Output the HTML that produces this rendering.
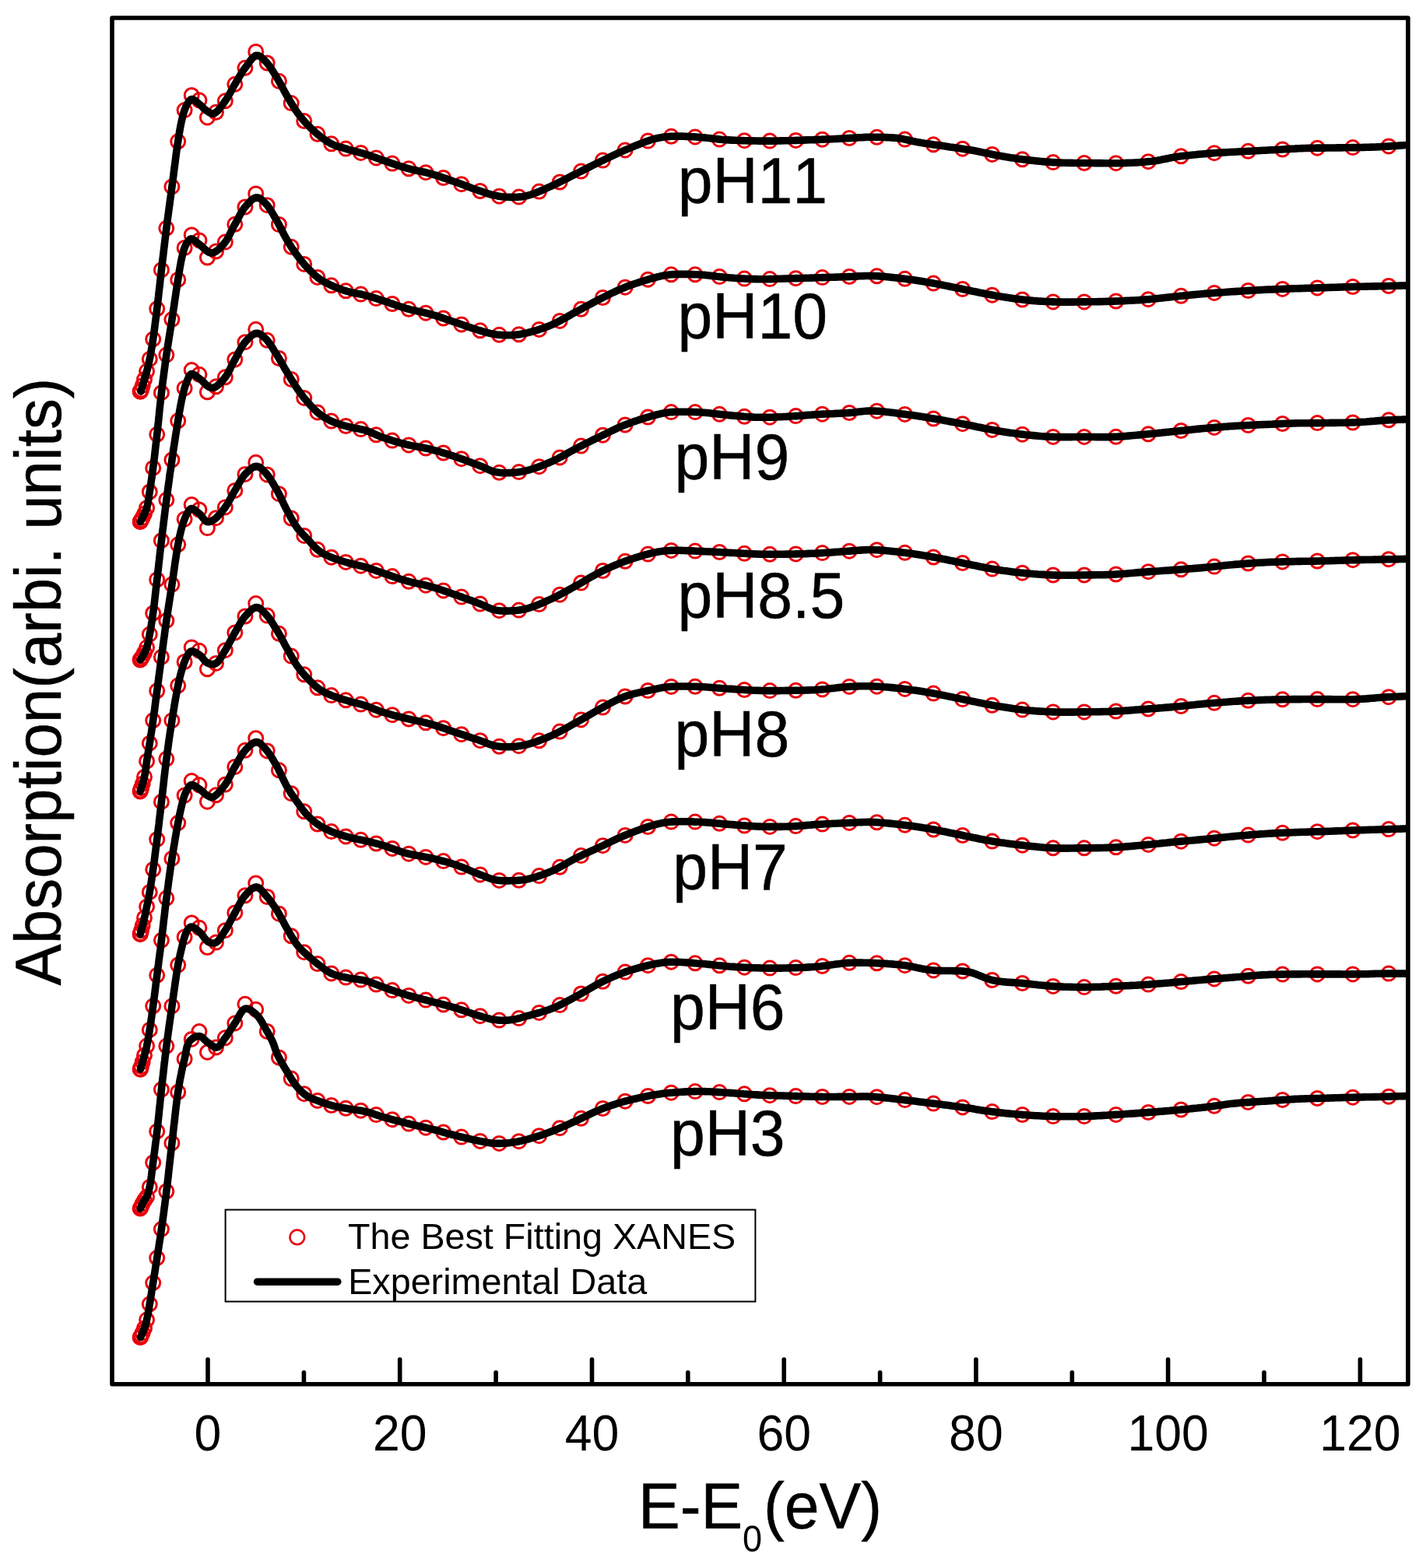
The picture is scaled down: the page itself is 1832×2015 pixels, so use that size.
<!DOCTYPE html>
<html><head><meta charset="utf-8"><title>XANES</title>
<style>html,body{margin:0;padding:0;background:#fff;overflow:hidden;}svg{display:block;}text{font-kerning:none;font-feature-settings:"kern" 0;}</style></head>
<body>
<svg width="1832" height="2015" viewBox="0 0 1832 2015">
<rect width="1832" height="2015" fill="#fff"/>
<g fill="none" stroke="#e8000b" stroke-width="3"><circle cx="180.1" cy="503" r="9.0"/><circle cx="180.5" cy="503" r="9.0"/><circle cx="181.5" cy="501" r="9.0"/><circle cx="183.2" cy="495.4" r="9.0"/><circle cx="185.5" cy="487.6" r="9.0"/><circle cx="188.6" cy="477.1" r="9.0"/><circle cx="192.3" cy="461.4" r="9.0"/><circle cx="196.7" cy="435.8" r="9.0"/><circle cx="201.7" cy="396.8" r="9.0"/><circle cx="207.4" cy="346.9" r="9.0"/><circle cx="213.8" cy="293.3" r="9.0"/><circle cx="220.9" cy="239.9" r="9.0"/><circle cx="228.7" cy="181.8" r="9.0"/><circle cx="237.1" cy="141.6" r="9.0"/><circle cx="246.2" cy="122.5" r="9.0"/><circle cx="255.9" cy="128.8" r="9.0"/><circle cx="266.4" cy="150.9" r="9.0"/><circle cx="277.5" cy="144.3" r="9.0"/><circle cx="289.3" cy="129.8" r="9.0"/><circle cx="301.8" cy="108.3" r="9.0"/><circle cx="314.9" cy="87.3" r="9.0"/><circle cx="328.7" cy="66.4" r="9.0"/><circle cx="343.2" cy="81" r="9.0"/><circle cx="358.4" cy="104.3" r="9.0"/><circle cx="374.2" cy="132.6" r="9.0"/><circle cx="390.7" cy="155.5" r="9.0"/><circle cx="407.9" cy="172.3" r="9.0"/><circle cx="425.7" cy="184.8" r="9.0"/><circle cx="444.3" cy="191.1" r="9.0"/><circle cx="463.5" cy="196.4" r="9.0"/><circle cx="483.3" cy="202.9" r="9.0"/><circle cx="503.9" cy="210.1" r="9.0"/><circle cx="525.1" cy="216.8" r="9.0"/><circle cx="547" cy="221.7" r="9.0"/><circle cx="569.6" cy="228.5" r="9.0"/><circle cx="592.8" cy="236.7" r="9.0"/><circle cx="616.8" cy="245.5" r="9.0"/><circle cx="641.3" cy="252.2" r="9.0"/><circle cx="666.6" cy="253.1" r="9.0"/><circle cx="692.6" cy="246.1" r="9.0"/><circle cx="719.2" cy="234" r="9.0"/><circle cx="746.5" cy="220.1" r="9.0"/><circle cx="774.4" cy="206.1" r="9.0"/><circle cx="803.1" cy="192.9" r="9.0"/><circle cx="832.4" cy="181.1" r="9.0"/><circle cx="862.3" cy="175.3" r="9.0"/><circle cx="893" cy="175.9" r="9.0"/><circle cx="924.3" cy="179.1" r="9.0"/><circle cx="956.3" cy="180.7" r="9.0"/><circle cx="989" cy="181.1" r="9.0"/><circle cx="1022.4" cy="180.4" r="9.0"/><circle cx="1056.4" cy="179.2" r="9.0"/><circle cx="1091.1" cy="177.5" r="9.0"/><circle cx="1126.5" cy="176.3" r="9.0"/><circle cx="1162.5" cy="179.1" r="9.0"/><circle cx="1199.2" cy="185.8" r="9.0"/><circle cx="1236.6" cy="191.2" r="9.0"/><circle cx="1274.7" cy="198.4" r="9.0"/><circle cx="1313.4" cy="204.8" r="9.0"/><circle cx="1352.9" cy="208.6" r="9.0"/><circle cx="1392.9" cy="209.5" r="9.0"/><circle cx="1433.7" cy="209.7" r="9.0"/><circle cx="1475.2" cy="207.7" r="9.0"/><circle cx="1517.3" cy="200.8" r="9.0"/><circle cx="1560" cy="196.7" r="9.0"/><circle cx="1603.5" cy="194.3" r="9.0"/><circle cx="1647.6" cy="192" r="9.0"/><circle cx="1692.4" cy="190.2" r="9.0"/><circle cx="1737.9" cy="189.6" r="9.0"/><circle cx="1784.1" cy="187.9" r="9.0"/></g>
<path d="M180.9,503 181.2,502 181.5,501 181.8,500 182.1,499 182.4,498 182.7,497.1 183,496.1 183.3,495.1 183.6,494.1 183.9,493.1 184.2,492 184.5,491 184.8,489.9 185.2,488.7 185.5,487.6 185.9,486.4 186.2,485.3 186.6,484.1 186.9,483 187.3,481.8 187.6,480.6 187.9,479.4 188.3,478.2 188.6,477 188.9,475.7 189.3,474.5 189.6,473.2 189.9,472 190.2,470.7 190.5,469.5 190.8,468.2 191.1,466.9 191.4,465.5 191.7,464.2 192,462.8 192.3,461.3 192.7,459.4 193.1,457.4 193.4,455.4 193.8,453.4 194.2,451.3 194.5,449.1 194.9,447 195.3,444.7 195.6,442.5 196,440.2 196.3,437.9 196.7,435.5 197.1,432.6 197.6,429.6 198,426.5 198.4,423.4 198.8,420.2 199.2,416.9 199.6,413.7 200,410.4 200.5,407 200.9,403.6 201.3,400.2 201.7,396.8 202.2,392.9 202.6,388.9 203.1,384.9 203.6,380.8 204,376.7 204.5,372.5 205,368.3 205.5,364.1 205.9,359.9 206.4,355.6 206.9,351.4 207.4,347.2 207.9,342.8 208.4,338.4 208.9,333.9 209.5,329.5 210,325 210.5,320.5 211.1,316 211.6,311.5 212.1,307 212.7,302.6 213.2,298.1 213.8,293.6 214.4,289.1 214.9,284.7 215.5,280.3 216.1,275.8 216.7,271.4 217.3,266.9 217.9,262.5 218.5,258 219.1,253.6 219.7,249.1 220.3,244.5 220.9,240 221.5,235.1 222.2,230.1 222.9,225 223.5,219.8 224.2,214.5 224.9,209.3 225.5,204.2 226.2,199.2 226.8,194.4 227.5,189.8 228.1,185.5 228.7,181.5 229.1,179.1 229.4,176.7 229.8,174.5 230.1,172.3 230.5,170.2 230.8,168.2 231.2,166.3 231.5,164.3 231.9,162.5 232.2,160.6 232.6,158.8 233,157 233.3,155.6 233.6,154.1 234,152.7 234.3,151.4 234.6,150 234.9,148.7 235.3,147.4 235.6,146.2 236,144.9 236.3,143.8 236.7,142.6 237.1,141.5 237.4,140.7 237.7,139.9 238,139.1 238.3,138.4 238.6,137.6 238.9,136.9 239.2,136.2 239.5,135.5 239.9,134.9 240.2,134.2 240.6,133.6 241,133 241.4,132.4 241.8,131.8 242.2,131.3 242.6,130.7 243,130.1 243.4,129.5 243.9,129 244.4,128.5 244.8,128.1 245.3,127.8 245.9,127.6 246.4,127.5 247.1,127.5 247.8,127.7 248.6,128.1 249.4,128.5 250.3,129.1 251.1,129.7 252,130.4 252.9,131.2 253.7,131.9 254.6,132.7 255.4,133.4 256.2,134 257,134.6 257.7,135.3 258.4,136 259.2,136.7 259.9,137.4 260.6,138.2 261.3,138.9 262,139.6 262.7,140.2 263.5,140.9 264.2,141.5 265,142 265.7,142.5 266.5,143 267.3,143.5 268.1,144 268.8,144.5 269.6,144.9 270.4,145.3 271.3,145.6 272.1,145.9 272.9,146 273.7,146 274.5,145.9 275.7,145.5 276.9,144.8 278.1,143.8 279.4,142.7 280.6,141.4 281.9,139.9 283.1,138.3 284.3,136.7 285.5,135 286.7,133.4 287.9,131.7 289,130.2 290.2,128.5 291.3,126.8 292.5,125 293.5,123.1 294.6,121.2 295.7,119.3 296.7,117.4 297.7,115.5 298.8,113.5 299.8,111.6 300.9,109.7 302,107.9 303.1,106.1 304.1,104.3 305.2,102.5 306.3,100.7 307.3,98.9 308.4,97.1 309.5,95.3 310.6,93.6 311.7,91.8 312.9,90.1 314,88.5 315.2,86.9 316.3,85.4 317.5,83.8 318.7,82.1 319.8,80.4 321,78.7 322.3,77.1 323.5,75.6 324.7,74.2 325.9,73.1 327.2,72.2 328.4,71.5 329.6,71.2 330.6,71.2 331.6,71.4 332.6,71.7 333.6,72.2 334.6,72.8 335.6,73.6 336.5,74.4 337.5,75.3 338.5,76.2 339.5,77.2 340.4,78.2 341.4,79.1 342.7,80.4 343.9,81.9 345.1,83.4 346.4,85.1 347.6,86.9 348.8,88.7 350,90.6 351.2,92.5 352.4,94.4 353.5,96.3 354.7,98.2 355.8,100 357,101.9 358.1,103.8 359.2,105.8 360.3,107.8 361.4,109.8 362.4,111.8 363.5,113.8 364.6,115.8 365.6,117.8 366.7,119.7 367.8,121.7 368.9,123.6 370,125.4 371,127.2 372.1,129.1 373.2,130.9 374.3,132.7 375.3,134.4 376.4,136.2 377.5,137.9 378.6,139.7 379.7,141.3 380.9,143 382,144.6 383,146 384.1,147.4 385.1,148.8 386.2,150.1 387.3,151.5 388.3,152.8 389.4,154 390.5,155.3 391.6,156.6 392.8,157.8 393.9,159.1 395.1,160.3 396.3,161.6 397.6,162.8 398.8,164.1 400.1,165.3 401.4,166.6 402.7,167.8 404.1,169 405.4,170.2 406.7,171.4 408.1,172.5 409.4,173.6 410.8,174.7 412.1,175.7 413.3,176.7 414.6,177.6 415.9,178.6 417.1,179.5 418.4,180.4 419.7,181.3 421,182.1 422.3,182.9 423.7,183.7 425.1,184.5 426.5,185.2 428,185.9 429.6,186.6 431.1,187.2 432.7,187.7 434.4,188.3 436,188.8 437.7,189.3 439.4,189.7 441.1,190.2 442.8,190.7 444.5,191.2 446.2,191.7 448.1,192.3 450,192.8 452,193.4 454,193.9 456,194.4 458.1,195 460.1,195.5 462.1,196 464.1,196.6 466.1,197.1 468.1,197.7 470,198.3 471.8,198.9 473.6,199.4 475.3,200 477,200.6 478.7,201.2 480.4,201.8 482.1,202.4 483.8,203 485.6,203.7 487.4,204.3 489.2,204.9 491.1,205.6 493.5,206.4 495.9,207.3 498.4,208.2 501,209.1 503.6,210 506.2,210.9 508.9,211.8 511.6,212.7 514.3,213.6 516.9,214.4 519.6,215.2 522.2,216 524.8,216.7 527.4,217.4 530,218 532.6,218.5 535.2,219.1 537.8,219.7 540.4,220.2 543,220.8 545.6,221.3 548.2,221.9 550.8,222.6 553.4,223.3 556,224.1 558.6,224.8 561.2,225.7 563.8,226.5 566.4,227.4 569,228.3 571.6,229.1 574.2,230.1 576.7,231 579.3,231.9 581.9,232.8 584.5,233.7 587.1,234.6 589.8,235.6 592.4,236.6 595.1,237.6 597.8,238.6 600.4,239.6 603.1,240.6 605.7,241.6 608.3,242.5 610.8,243.4 613.2,244.3 615.6,245.1 617.5,245.7 619.3,246.3 621,246.9 622.8,247.5 624.5,248.1 626.2,248.6 627.8,249.1 629.5,249.6 631.2,250.1 632.9,250.5 634.6,250.9 636.3,251.3 638,251.6 639.7,251.9 641.5,252.2 643.2,252.4 644.9,252.7 646.7,252.9 648.4,253 650.2,253.2 651.9,253.3 653.6,253.3 655.4,253.4 657.1,253.4 658.8,253.4 660.5,253.4 662.2,253.3 663.9,253.3 665.6,253.2 667.2,253 668.9,252.9 670.7,252.7 672.4,252.4 674.2,252.1 676,251.7 677.8,251.3 680.2,250.7 682.7,249.9 685.2,249 687.8,248 690.4,247 693.1,245.9 695.8,244.8 698.4,243.6 701.1,242.4 703.8,241.2 706.4,240 709,238.8 711.6,237.6 714.2,236.4 716.8,235.1 719.4,233.8 722,232.5 724.6,231.2 727.2,229.9 729.8,228.6 732.3,227.2 734.9,225.9 737.5,224.6 740.1,223.3 742.7,222 745.3,220.7 747.9,219.4 750.5,218.1 753,216.8 755.6,215.4 758.2,214.1 760.8,212.8 763.4,211.5 766,210.2 768.6,209 771.2,207.7 773.8,206.5 776.3,205.2 778.9,204 781.4,202.8 784,201.5 786.5,200.3 789.1,199.1 791.7,197.9 794.3,196.7 796.9,195.5 799.6,194.4 802.3,193.2 805.3,191.9 808.4,190.6 811.6,189.2 814.9,187.8 818.2,186.5 821.5,185.2 824.7,183.9 827.9,182.6 831.1,181.5 834.2,180.4 837.2,179.5 840,178.7 842,178.2 843.9,177.7 845.8,177.3 847.6,177 849.4,176.6 851.1,176.4 852.9,176.1 854.7,175.9 856.5,175.7 858.3,175.6 860.3,175.4 862.3,175.3 864.9,175.2 867.7,175.1 870.5,175.1 873.3,175.1 876.3,175.1 879.3,175.2 882.3,175.4 885.3,175.5 888.3,175.7 891.3,175.8 894.3,176 897.2,176.2 900.1,176.4 902.9,176.7 905.8,176.9 908.6,177.3 911.4,177.6 914.2,177.9 917.1,178.3 919.9,178.6 922.9,178.9 925.9,179.2 928.9,179.5 932.1,179.7 936.1,179.9 940.2,180.1 944.4,180.3 948.7,180.5 953.1,180.6 957.5,180.8 962,180.9 966.5,180.9 971,181 975.6,181.1 980,181.1 984.5,181.1 989.1,181.1 993.8,181.1 998.6,181 1003.4,180.9 1008.2,180.8 1013,180.7 1017.7,180.5 1022.4,180.4 1027,180.2 1031.5,180.1 1035.8,179.9 1040,179.8 1043.2,179.7 1046.2,179.6 1049.2,179.5 1052.1,179.4 1054.9,179.3 1057.7,179.1 1060.5,179 1063.3,178.9 1066.1,178.8 1069,178.7 1071.9,178.5 1074.9,178.4 1078.4,178.2 1082,178 1085.6,177.8 1089.3,177.6 1093,177.4 1096.7,177.2 1100.5,176.9 1104.2,176.7 1107.9,176.6 1111.5,176.4 1115.1,176.3 1118.6,176.3 1121.7,176.3 1124.7,176.3 1127.7,176.3 1130.7,176.3 1133.7,176.4 1136.6,176.5 1139.5,176.6 1142.4,176.7 1145.2,176.9 1148,177.1 1150.8,177.3 1153.5,177.6 1155.8,177.9 1158.1,178.3 1160.2,178.6 1162.4,179.1 1164.5,179.5 1166.6,180 1168.7,180.5 1170.8,181 1173,181.5 1175.2,181.9 1177.4,182.4 1179.7,182.8 1182.4,183.3 1185.2,183.7 1188.1,184.2 1191,184.6 1193.9,185 1196.9,185.4 1199.9,185.9 1202.8,186.3 1205.8,186.7 1208.8,187.1 1211.8,187.6 1214.7,188 1217.6,188.4 1220.5,188.9 1223.4,189.3 1226.3,189.7 1229.3,190.1 1232.2,190.5 1235.1,191 1238,191.4 1240.9,191.9 1243.8,192.3 1246.7,192.8 1249.6,193.3 1252.5,193.8 1255.4,194.4 1258.3,195 1261.2,195.6 1264.1,196.2 1267,196.8 1270,197.4 1272.9,198 1275.8,198.6 1278.7,199.2 1281.6,199.8 1284.5,200.3 1287.4,200.8 1290.3,201.3 1293.2,201.8 1296.1,202.2 1298.9,202.7 1301.8,203.1 1304.7,203.6 1307.6,204 1310.6,204.4 1313.5,204.8 1316.5,205.1 1319.5,205.5 1322.8,205.9 1326.1,206.2 1329.4,206.6 1332.8,206.9 1336.2,207.3 1339.6,207.6 1343,207.9 1346.4,208.1 1349.8,208.4 1353.2,208.6 1356.6,208.8 1360,209 1363.3,209.1 1366.7,209.3 1370,209.3 1373.3,209.4 1376.6,209.4 1379.9,209.5 1383.2,209.5 1386.5,209.5 1389.8,209.5 1393.2,209.5 1396.6,209.5 1400,209.5 1403.7,209.5 1407.4,209.6 1411.2,209.6 1415,209.6 1418.8,209.7 1422.6,209.7 1426.4,209.7 1430.2,209.7 1433.9,209.7 1437.6,209.7 1441.3,209.6 1444.8,209.5 1447.9,209.4 1450.9,209.3 1453.8,209.2 1456.8,209 1459.7,208.9 1462.5,208.7 1465.4,208.5 1468.2,208.3 1471.1,208.1 1473.9,207.8 1476.8,207.5 1479.7,207.2 1482.6,206.8 1485.5,206.4 1488.4,205.9 1491.2,205.4 1494.1,204.8 1497,204.3 1499.8,203.7 1502.7,203.1 1505.7,202.6 1508.6,202 1511.6,201.5 1514.7,201.1 1518.2,200.6 1521.7,200.2 1525.3,199.8 1528.9,199.4 1532.6,199 1536.2,198.7 1539.9,198.3 1543.6,198 1547.3,197.7 1551,197.4 1554.7,197.1 1558.3,196.8 1561.8,196.5 1565.3,196.3 1568.8,196.1 1572.3,195.9 1575.8,195.7 1579.3,195.5 1582.8,195.3 1586.3,195.2 1589.7,195 1593.2,194.8 1596.6,194.7 1600,194.5 1603.2,194.3 1606.4,194.2 1609.6,194 1612.8,193.8 1616,193.7 1619.1,193.5 1622.3,193.3 1625.4,193.2 1628.5,193 1631.7,192.8 1634.8,192.7 1638,192.5 1641.1,192.3 1644.3,192.2 1647.4,192 1650.5,191.8 1653.6,191.6 1656.7,191.4 1659.8,191.2 1662.9,191.1 1666.1,190.9 1669.4,190.8 1672.6,190.6 1676,190.5 1680,190.4 1684.1,190.3 1688.3,190.2 1692.6,190.1 1696.9,190.1 1701.3,190.1 1705.7,190 1710,190 1714.3,190 1718.5,189.9 1722.6,189.9 1726.6,189.8 1730,189.7 1733.2,189.7 1736.4,189.6 1739.6,189.6 1742.7,189.6 1745.8,189.5 1748.9,189.5 1752,189.4 1755.1,189.3 1758.2,189.2 1761.4,189.1 1764.6,189 1768,188.9 1771.5,188.7 1774.9,188.5 1778.4,188.3 1781.9,188.1 1785.4,187.9 1788.9,187.6 1792.4,187.4 1795.9,187.2 1799.4,186.9 1802.9,186.7 1806.4,186.5" fill="none" stroke="#000" stroke-width="9.6" stroke-linejoin="round" stroke-linecap="round"/>
<g fill="none" stroke="#e8000b" stroke-width="3"><circle cx="180.1" cy="670.5" r="9.0"/><circle cx="180.5" cy="670" r="9.0"/><circle cx="181.5" cy="668.2" r="9.0"/><circle cx="183.2" cy="665.1" r="9.0"/><circle cx="185.5" cy="660.3" r="9.0"/><circle cx="188.6" cy="652.7" r="9.0"/><circle cx="192.3" cy="632" r="9.0"/><circle cx="196.7" cy="601.4" r="9.0"/><circle cx="201.7" cy="558.3" r="9.0"/><circle cx="207.4" cy="504.7" r="9.0"/><circle cx="213.8" cy="456.1" r="9.0"/><circle cx="220.9" cy="410.6" r="9.0"/><circle cx="228.7" cy="359.4" r="9.0"/><circle cx="237.1" cy="318.5" r="9.0"/><circle cx="246.2" cy="301.9" r="9.0"/><circle cx="255.9" cy="308.9" r="9.0"/><circle cx="266.4" cy="331" r="9.0"/><circle cx="277.5" cy="323" r="9.0"/><circle cx="289.3" cy="311.1" r="9.0"/><circle cx="301.8" cy="288.3" r="9.0"/><circle cx="314.9" cy="266" r="9.0"/><circle cx="328.7" cy="248.9" r="9.0"/><circle cx="343.2" cy="263.7" r="9.0"/><circle cx="358.4" cy="288.6" r="9.0"/><circle cx="374.2" cy="317.3" r="9.0"/><circle cx="390.7" cy="339.4" r="9.0"/><circle cx="407.9" cy="356.4" r="9.0"/><circle cx="425.7" cy="366.8" r="9.0"/><circle cx="444.3" cy="373.8" r="9.0"/><circle cx="463.5" cy="378.1" r="9.0"/><circle cx="483.3" cy="383.6" r="9.0"/><circle cx="503.9" cy="390.5" r="9.0"/><circle cx="525.1" cy="397.3" r="9.0"/><circle cx="547" cy="402.2" r="9.0"/><circle cx="569.6" cy="409" r="9.0"/><circle cx="592.8" cy="416.9" r="9.0"/><circle cx="616.8" cy="424.8" r="9.0"/><circle cx="641.3" cy="430.3" r="9.0"/><circle cx="666.6" cy="429.8" r="9.0"/><circle cx="692.6" cy="423.4" r="9.0"/><circle cx="719.2" cy="412.4" r="9.0"/><circle cx="746.5" cy="397.3" r="9.0"/><circle cx="774.4" cy="382.5" r="9.0"/><circle cx="803.1" cy="369.2" r="9.0"/><circle cx="832.4" cy="359.2" r="9.0"/><circle cx="862.3" cy="352.8" r="9.0"/><circle cx="893" cy="352.8" r="9.0"/><circle cx="924.3" cy="355.6" r="9.0"/><circle cx="956.3" cy="358.1" r="9.0"/><circle cx="989" cy="358.6" r="9.0"/><circle cx="1022.4" cy="357.7" r="9.0"/><circle cx="1056.4" cy="356.6" r="9.0"/><circle cx="1091.1" cy="355.5" r="9.0"/><circle cx="1126.5" cy="354.8" r="9.0"/><circle cx="1162.5" cy="358.3" r="9.0"/><circle cx="1199.2" cy="364.1" r="9.0"/><circle cx="1236.6" cy="371.5" r="9.0"/><circle cx="1274.7" cy="379.2" r="9.0"/><circle cx="1313.4" cy="385" r="9.0"/><circle cx="1352.9" cy="387.9" r="9.0"/><circle cx="1392.9" cy="387.9" r="9.0"/><circle cx="1433.7" cy="387" r="9.0"/><circle cx="1475.2" cy="384.7" r="9.0"/><circle cx="1517.3" cy="380.3" r="9.0"/><circle cx="1560" cy="376.4" r="9.0"/><circle cx="1603.5" cy="373.5" r="9.0"/><circle cx="1647.6" cy="371.4" r="9.0"/><circle cx="1692.4" cy="369.9" r="9.0"/><circle cx="1737.9" cy="368.5" r="9.0"/><circle cx="1784.1" cy="367.5" r="9.0"/></g>
<path d="M180.2,670.5 180.6,669.8 180.9,669.2 181.3,668.5 181.7,667.9 182,667.2 182.4,666.6 182.7,665.9 183.1,665.2 183.5,664.6 183.8,663.9 184.2,663.2 184.5,662.5 184.9,661.7 185.2,661 185.6,660.2 186,659.4 186.3,658.7 186.7,657.9 187,657.1 187.3,656.2 187.7,655.4 188,654.5 188.3,653.6 188.6,652.6 189,651.2 189.4,649.6 189.7,648.1 190,646.4 190.3,644.7 190.6,643 190.9,641.2 191.2,639.3 191.4,637.5 191.7,635.6 192,633.7 192.3,631.8 192.7,629.5 193,627.1 193.4,624.6 193.8,622.2 194.1,619.7 194.5,617.1 194.9,614.5 195.2,611.9 195.6,609.2 196,606.5 196.3,603.8 196.7,601 197.1,597.7 197.5,594.4 198,591 198.4,587.5 198.8,584 199.2,580.4 199.6,576.8 200,573.2 200.4,569.6 200.9,565.9 201.3,562.1 201.7,558.4 202.2,554.2 202.6,549.8 203.1,545.4 203.6,541 204,536.5 204.5,531.9 204.9,527.4 205.4,522.8 205.9,518.3 206.4,513.8 206.9,509.4 207.4,505 207.9,500.9 208.4,496.7 208.9,492.6 209.4,488.5 210,484.5 210.5,480.4 211,476.4 211.6,472.3 212.1,468.3 212.7,464.3 213.2,460.3 213.8,456.3 214.4,452.5 214.9,448.6 215.5,444.9 216.1,441.1 216.7,437.3 217.3,433.6 217.9,429.8 218.5,426.1 219.1,422.3 219.7,418.4 220.3,414.6 220.9,410.7 221.5,406.5 222.2,402.1 222.9,397.6 223.6,393.1 224.2,388.5 224.9,383.9 225.6,379.5 226.2,375.1 226.9,370.8 227.5,366.7 228.1,362.8 228.7,359.1 229.1,356.7 229.5,354.3 229.8,352 230.2,349.8 230.5,347.7 230.8,345.6 231.2,343.6 231.5,341.6 231.9,339.6 232.2,337.7 232.6,335.8 233,334 233.3,332.5 233.6,331.1 233.9,329.7 234.3,328.3 234.6,326.9 234.9,325.6 235.3,324.3 235.6,323 236,321.8 236.3,320.6 236.7,319.5 237.1,318.4 237.4,317.7 237.7,316.9 238,316.3 238.3,315.6 238.6,314.9 238.9,314.3 239.2,313.7 239.5,313.1 239.9,312.6 240.2,312 240.6,311.5 241,311 241.3,310.6 241.7,310.1 242,309.6 242.4,309.2 242.8,308.8 243.1,308.3 243.5,308 243.9,307.6 244.3,307.3 244.8,307.1 245.2,307 245.7,306.9 246.4,307 247.2,307.2 248,307.6 248.8,308.1 249.7,308.7 250.6,309.4 251.5,310.2 252.5,311 253.4,311.8 254.3,312.6 255.3,313.4 256.2,314.1 257.3,314.9 258.4,315.9 259.5,316.9 260.6,318 261.7,319 262.9,320.1 264,321.1 265.1,322.1 266.2,322.9 267.3,323.6 268.3,324.2 269.3,324.6 269.9,324.8 270.5,324.9 271,324.9 271.6,325 272.1,325 272.6,324.9 273.1,324.8 273.7,324.7 274.2,324.6 274.8,324.4 275.3,324.2 275.9,323.9 276.9,323.4 277.9,322.7 279,321.9 280.1,321 281.3,320 282.4,319 283.6,317.8 284.7,316.6 285.8,315.4 286.9,314.1 288,312.8 289,311.5 290.2,309.9 291.4,308.1 292.5,306.2 293.6,304.3 294.6,302.3 295.7,300.2 296.7,298.1 297.8,296 298.8,294 299.8,291.9 300.9,289.9 302,287.9 303.1,286 304.1,284 305.2,282.1 306.2,280.1 307.3,278.1 308.3,276.1 309.4,274.2 310.5,272.3 311.6,270.5 312.8,268.8 314,267.1 315.2,265.6 316.3,264.3 317.4,263 318.6,261.7 319.8,260.4 321,259.1 322.3,257.9 323.5,256.8 324.8,255.8 326,255 327.2,254.4 328.4,254 329.6,253.8 330.6,253.8 331.6,254.1 332.6,254.4 333.6,254.9 334.6,255.5 335.6,256.2 336.6,257 337.6,257.9 338.5,258.8 339.5,259.8 340.5,260.7 341.4,261.7 342.7,263.1 343.9,264.6 345.2,266.3 346.4,268.1 347.6,270 348.8,271.9 350,273.9 351.2,275.9 352.4,278 353.5,280 354.7,282 355.8,284 356.9,286 358.1,288.1 359.2,290.1 360.2,292.3 361.3,294.4 362.4,296.5 363.4,298.6 364.5,300.7 365.6,302.8 366.7,304.8 367.8,306.8 368.9,308.8 370,310.6 371,312.3 372.1,314 373.2,315.7 374.2,317.4 375.3,319 376.4,320.6 377.5,322.3 378.6,323.8 379.7,325.4 380.9,327 382,328.5 383.1,329.9 384.1,331.3 385.2,332.6 386.2,334 387.3,335.3 388.4,336.6 389.4,337.9 390.5,339.2 391.6,340.4 392.8,341.7 393.9,343 395.1,344.2 396.3,345.5 397.6,346.8 398.8,348 400.1,349.3 401.4,350.6 402.7,351.8 404,353.1 405.4,354.3 406.7,355.4 408.1,356.5 409.4,357.6 410.8,358.6 412.1,359.5 413.3,360.3 414.6,361.1 415.9,361.8 417.1,362.5 418.4,363.2 419.7,363.9 421,364.6 422.4,365.2 423.7,365.8 425.1,366.5 426.5,367.1 428,367.8 429.6,368.5 431.2,369.1 432.8,369.8 434.4,370.4 436,371 437.7,371.6 439.4,372.2 441,372.8 442.8,373.3 444.5,373.9 446.2,374.4 448.1,374.9 450,375.4 452,375.9 454,376.3 456,376.7 458,377.1 460.1,377.5 462.1,377.8 464.1,378.2 466.1,378.7 468.1,379.1 470,379.6 471.8,380.1 473.6,380.6 475.3,381.1 477,381.6 478.7,382.1 480.4,382.6 482.1,383.2 483.8,383.7 485.6,384.3 487.4,384.9 489.2,385.5 491.1,386.1 493.5,386.9 495.9,387.7 498.4,388.6 501,389.5 503.6,390.4 506.3,391.3 508.9,392.2 511.6,393.2 514.3,394 516.9,394.9 519.6,395.7 522.2,396.5 524.8,397.2 527.4,397.9 530,398.5 532.6,399 535.2,399.6 537.8,400.2 540.4,400.7 543,401.3 545.6,401.8 548.2,402.5 550.8,403.1 553.4,403.8 556,404.6 558.6,405.3 561.2,406.2 563.8,407 566.4,407.9 569,408.8 571.6,409.7 574.2,410.6 576.7,411.4 579.3,412.3 581.9,413.2 584.5,414.1 587.1,415 589.8,415.9 592.4,416.8 595.1,417.7 597.8,418.6 600.4,419.6 603.1,420.5 605.7,421.4 608.2,422.2 610.8,423 613.2,423.8 615.6,424.5 617.5,425 619.3,425.6 621,426.1 622.8,426.6 624.5,427.1 626.2,427.5 627.8,428 629.5,428.4 631.2,428.8 632.9,429.1 634.6,429.4 636.3,429.7 638,429.9 639.7,430.2 641.5,430.3 643.2,430.5 644.9,430.6 646.7,430.7 648.4,430.8 650.2,430.8 651.9,430.8 653.6,430.8 655.4,430.8 657.1,430.7 658.8,430.6 660.5,430.5 662.2,430.3 663.9,430.1 665.5,429.9 667.2,429.7 668.9,429.4 670.6,429.1 672.4,428.8 674.1,428.4 675.9,428 677.8,427.6 680.2,427 682.7,426.4 685.2,425.7 687.8,424.9 690.4,424.1 693.1,423.2 695.8,422.4 698.5,421.4 701.1,420.4 703.8,419.4 706.4,418.4 709,417.3 711.6,416.1 714.3,414.9 716.9,413.6 719.5,412.2 722,410.8 724.6,409.4 727.2,407.9 729.8,406.5 732.4,405 734.9,403.5 737.5,402.1 740.1,400.7 742.7,399.3 745.3,397.9 747.9,396.5 750.5,395.1 753,393.7 755.6,392.3 758.2,390.9 760.8,389.5 763.4,388.1 766,386.8 768.6,385.4 771.2,384.1 773.8,382.8 776.3,381.5 778.9,380.3 781.4,379 783.9,377.7 786.5,376.5 789,375.3 791.6,374.1 794.2,372.9 796.9,371.7 799.6,370.6 802.3,369.5 805.3,368.3 808.5,367.1 811.7,366 815,364.8 818.3,363.7 821.6,362.6 824.9,361.5 828.1,360.5 831.3,359.6 834.3,358.7 837.2,357.8 840,357.1 841.9,356.6 843.6,356.1 845.3,355.7 847,355.3 848.5,354.9 850.1,354.6 851.7,354.3 853.3,354 854.9,353.7 856.6,353.4 858.4,353.2 860.3,353 863.1,352.8 866,352.6 869,352.5 872.1,352.4 875.4,352.4 878.6,352.4 882,352.4 885.3,352.5 888.7,352.6 892,352.7 895.3,352.8 898.5,353 901.7,353.2 904.9,353.4 908.1,353.7 911.3,354.1 914.5,354.4 917.7,354.8 920.8,355.2 924,355.5 927.2,355.9 930.4,356.2 933.6,356.5 936.8,356.8 940,357 943.2,357.3 946.3,357.5 949.5,357.7 952.7,357.9 955.9,358 959.1,358.2 962.3,358.3 965.4,358.5 968.6,358.6 971.8,358.6 975,358.7 978.2,358.7 981.4,358.7 984.5,358.7 987.7,358.6 990.9,358.6 994.1,358.5 997.3,358.4 1000.5,358.3 1003.6,358.2 1006.8,358.1 1010,358 1013.2,357.9 1016.4,357.8 1019.6,357.7 1022.8,357.6 1025.9,357.6 1029.1,357.5 1032.3,357.4 1035.5,357.3 1038.7,357.2 1041.9,357.1 1045,357 1048.2,356.9 1051.4,356.8 1054.6,356.7 1057.8,356.6 1061.1,356.5 1064.3,356.4 1067.5,356.3 1070.8,356.2 1074,356.1 1077.2,356 1080.4,355.9 1083.5,355.8 1086.6,355.7 1089.6,355.6 1092.2,355.5 1094.8,355.4 1097.4,355.2 1099.9,355.1 1102.3,354.9 1104.8,354.8 1107.2,354.7 1109.7,354.6 1112.2,354.5 1114.8,354.5 1117.3,354.5 1120,354.5 1123.1,354.6 1126.2,354.8 1129.4,354.9 1132.6,355.2 1135.9,355.4 1139.2,355.7 1142.5,356.1 1145.8,356.4 1149.1,356.8 1152.4,357.1 1155.7,357.5 1158.9,357.9 1162.1,358.3 1165.4,358.7 1168.6,359.2 1171.9,359.6 1175.1,360.1 1178.3,360.6 1181.6,361.1 1184.8,361.6 1188,362.1 1191.2,362.7 1194.5,363.2 1197.7,363.8 1200.9,364.4 1204.2,365 1207.4,365.6 1210.7,366.2 1213.9,366.9 1217.2,367.5 1220.4,368.2 1223.6,368.9 1226.9,369.5 1230.1,370.2 1233.4,370.8 1236.6,371.5 1239.8,372.2 1243.1,372.8 1246.3,373.5 1249.6,374.2 1252.8,374.8 1256,375.5 1259.3,376.2 1262.5,376.8 1265.8,377.5 1269,378.1 1272.3,378.7 1275.5,379.3 1278.7,379.9 1282,380.4 1285.2,381 1288.4,381.5 1291.6,382 1294.9,382.5 1298.1,383 1301.3,383.5 1304.6,383.9 1307.8,384.3 1311.1,384.7 1314.3,385.1 1317.5,385.4 1320.8,385.8 1324,386.1 1327.2,386.4 1330.5,386.6 1333.7,386.9 1337,387.1 1340.2,387.3 1343.5,387.5 1346.7,387.6 1350,387.8 1353.2,387.9 1356.4,388 1359.7,388.1 1362.9,388.1 1366.2,388.1 1369.4,388.1 1372.7,388.1 1375.9,388.1 1379.1,388.1 1382.4,388 1385.6,388 1388.9,387.9 1392.1,387.9 1395.3,387.9 1398.6,387.8 1401.8,387.8 1405,387.7 1408.3,387.7 1411.5,387.6 1414.7,387.6 1418,387.5 1421.2,387.4 1424.4,387.3 1427.7,387.2 1430.9,387.1 1434.1,387 1437.4,386.9 1440.6,386.7 1443.9,386.6 1447.1,386.4 1450.4,386.3 1453.6,386.1 1456.8,386 1460.1,385.8 1463.3,385.6 1466.6,385.3 1469.8,385.1 1473,384.8 1476.3,384.6 1479.5,384.3 1482.7,383.9 1486,383.6 1489.2,383.3 1492.4,382.9 1495.7,382.6 1498.9,382.2 1502.1,381.9 1505.4,381.5 1508.6,381.2 1511.8,380.9 1515.1,380.5 1518.3,380.2 1521.6,379.9 1524.8,379.6 1528,379.2 1531.3,378.9 1534.5,378.6 1537.8,378.3 1541,378 1544.3,377.7 1547.5,377.4 1550.7,377.1 1554,376.9 1557.2,376.6 1560.5,376.4 1563.7,376.1 1566.9,375.9 1570.2,375.7 1573.4,375.5 1576.7,375.2 1579.9,375 1583.2,374.8 1586.4,374.6 1589.6,374.4 1592.9,374.2 1596.1,374 1599.3,373.8 1602.6,373.6 1605.8,373.4 1609,373.2 1612.3,373 1615.5,372.8 1618.7,372.6 1622,372.5 1625.2,372.3 1628.4,372.1 1631.7,372 1634.9,371.9 1638.2,371.7 1641.4,371.6 1644.6,371.5 1647.9,371.4 1651.1,371.2 1654.4,371.1 1657.6,371 1660.9,370.9 1664.1,370.8 1667.3,370.7 1670.6,370.6 1673.8,370.5 1677.1,370.4 1680.3,370.3 1683.6,370.2 1686.8,370.1 1690,370 1693.3,369.9 1696.5,369.8 1699.8,369.7 1703,369.6 1706.2,369.5 1709.5,369.4 1712.7,369.3 1715.9,369.2 1719.2,369.1 1722.4,369 1725.6,368.9 1728.9,368.8 1732.1,368.7 1735.3,368.6 1738.6,368.5 1741.8,368.4 1745.1,368.3 1748.4,368.2 1751.7,368.2 1755.1,368.1 1758.4,368 1761.7,368 1765.1,367.9 1768.3,367.9 1771.5,367.8 1774.7,367.7 1777.7,367.7 1780.7,367.6 1783,367.5 1785.3,367.5 1787.5,367.4 1789.7,367.4 1791.8,367.3 1793.9,367.3 1796,367.2 1798,367.1 1800.1,367.1 1802.2,367 1804.3,367 1806.4,366.9" fill="none" stroke="#000" stroke-width="9.6" stroke-linejoin="round" stroke-linecap="round"/>
<g fill="none" stroke="#e8000b" stroke-width="3"><circle cx="180.1" cy="848" r="9.0"/><circle cx="180.5" cy="847.5" r="9.0"/><circle cx="181.5" cy="846" r="9.0"/><circle cx="183.2" cy="843.3" r="9.0"/><circle cx="185.5" cy="839" r="9.0"/><circle cx="188.6" cy="832.1" r="9.0"/><circle cx="192.3" cy="815.1" r="9.0"/><circle cx="196.7" cy="788" r="9.0"/><circle cx="201.7" cy="744.9" r="9.0"/><circle cx="207.4" cy="694.7" r="9.0"/><circle cx="213.8" cy="642.4" r="9.0"/><circle cx="220.9" cy="591" r="9.0"/><circle cx="228.7" cy="540.8" r="9.0"/><circle cx="237.1" cy="498.9" r="9.0"/><circle cx="246.2" cy="475.6" r="9.0"/><circle cx="255.9" cy="481.3" r="9.0"/><circle cx="266.4" cy="503.8" r="9.0"/><circle cx="277.5" cy="496.8" r="9.0"/><circle cx="289.3" cy="484.8" r="9.0"/><circle cx="301.8" cy="462" r="9.0"/><circle cx="314.9" cy="439.7" r="9.0"/><circle cx="328.7" cy="423.3" r="9.0"/><circle cx="343.2" cy="437.3" r="9.0"/><circle cx="358.4" cy="460.5" r="9.0"/><circle cx="374.2" cy="487.4" r="9.0"/><circle cx="390.7" cy="511.4" r="9.0"/><circle cx="407.9" cy="529.9" r="9.0"/><circle cx="425.7" cy="541.1" r="9.0"/><circle cx="444.3" cy="547.5" r="9.0"/><circle cx="463.5" cy="551.6" r="9.0"/><circle cx="483.3" cy="558.8" r="9.0"/><circle cx="503.9" cy="566.1" r="9.0"/><circle cx="525.1" cy="571.9" r="9.0"/><circle cx="547" cy="576" r="9.0"/><circle cx="569.6" cy="582" r="9.0"/><circle cx="592.8" cy="589.7" r="9.0"/><circle cx="616.8" cy="598.7" r="9.0"/><circle cx="641.3" cy="607.3" r="9.0"/><circle cx="666.6" cy="606.6" r="9.0"/><circle cx="692.6" cy="599.7" r="9.0"/><circle cx="719.2" cy="587.9" r="9.0"/><circle cx="746.5" cy="573.1" r="9.0"/><circle cx="774.4" cy="559.2" r="9.0"/><circle cx="803.1" cy="546" r="9.0"/><circle cx="832.4" cy="536" r="9.0"/><circle cx="862.3" cy="529.6" r="9.0"/><circle cx="893" cy="529.6" r="9.0"/><circle cx="924.3" cy="532.3" r="9.0"/><circle cx="956.3" cy="535.3" r="9.0"/><circle cx="989" cy="536.2" r="9.0"/><circle cx="1022.4" cy="534.6" r="9.0"/><circle cx="1056.4" cy="532.2" r="9.0"/><circle cx="1091.1" cy="530.5" r="9.0"/><circle cx="1126.5" cy="528.2" r="9.0"/><circle cx="1162.5" cy="532.4" r="9.0"/><circle cx="1199.2" cy="538" r="9.0"/><circle cx="1236.6" cy="544.7" r="9.0"/><circle cx="1274.7" cy="552.4" r="9.0"/><circle cx="1313.4" cy="558.2" r="9.0"/><circle cx="1352.9" cy="561.4" r="9.0"/><circle cx="1392.9" cy="561.4" r="9.0"/><circle cx="1433.7" cy="561.3" r="9.0"/><circle cx="1475.2" cy="557.8" r="9.0"/><circle cx="1517.3" cy="553.5" r="9.0"/><circle cx="1560" cy="549.4" r="9.0"/><circle cx="1603.5" cy="546.5" r="9.0"/><circle cx="1647.6" cy="544.5" r="9.0"/><circle cx="1692.4" cy="543.6" r="9.0"/><circle cx="1737.9" cy="543" r="9.0"/><circle cx="1784.1" cy="539.8" r="9.0"/></g>
<path d="M180.2,848 180.6,847.4 180.9,846.8 181.3,846.3 181.7,845.7 182,845.1 182.4,844.6 182.7,844 183.1,843.4 183.5,842.8 183.8,842.2 184.2,841.6 184.5,841 184.9,840.3 185.2,839.6 185.6,838.9 186,838.2 186.3,837.5 186.7,836.8 187,836.1 187.3,835.3 187.7,834.5 188,833.7 188.3,832.9 188.6,832 189,830.8 189.3,829.5 189.7,828.3 190,826.9 190.3,825.5 190.6,824.1 190.9,822.7 191.2,821.2 191.4,819.7 191.7,818.1 192,816.6 192.3,815 192.7,813 193.1,810.9 193.4,808.8 193.8,806.6 194.2,804.4 194.5,802.1 194.9,799.8 195.3,797.5 195.6,795.1 196,792.7 196.3,790.2 196.7,787.7 197.1,784.5 197.6,781.2 198,777.8 198.4,774.3 198.8,770.8 199.2,767.2 199.6,763.5 200,759.8 200.4,756.1 200.9,752.4 201.3,748.7 201.7,745 202.2,741 202.6,736.9 203.1,732.8 203.6,728.7 204,724.5 204.5,720.3 205,716.1 205.4,711.9 205.9,707.7 206.4,703.4 206.9,699.2 207.4,695 207.9,690.7 208.4,686.3 208.9,682 209.5,677.6 210,673.3 210.5,668.9 211.1,664.5 211.6,660.1 212.1,655.8 212.7,651.4 213.2,647 213.8,642.7 214.4,638.4 214.9,634.1 215.5,629.8 216.1,625.4 216.7,621.1 217.3,616.8 217.8,612.5 218.4,608.2 219.1,604 219.7,599.7 220.3,595.4 220.9,591.1 221.5,586.8 222.2,582.4 222.8,578 223.5,573.5 224.2,569.1 224.9,564.6 225.5,560.3 226.2,556 226.9,551.9 227.5,547.9 228.1,544.1 228.7,540.5 229.1,538.1 229.5,535.9 229.8,533.6 230.2,531.5 230.5,529.4 230.9,527.4 231.2,525.4 231.6,523.5 231.9,521.6 232.3,519.7 232.6,517.9 233,516 233.3,514.4 233.6,512.9 234,511.4 234.3,509.9 234.6,508.4 235,506.9 235.3,505.5 235.7,504.1 236,502.7 236.4,501.4 236.7,500.1 237.1,498.8 237.4,497.8 237.7,496.8 238,495.8 238.3,494.9 238.6,494 238.9,493.1 239.2,492.2 239.6,491.3 239.9,490.5 240.3,489.6 240.6,488.8 241,488 241.3,487.3 241.7,486.5 242,485.7 242.3,485 242.7,484.2 243,483.5 243.4,482.8 243.8,482.1 244.2,481.6 244.7,481.1 245.2,480.8 245.7,480.6 246.4,480.5 247.1,480.6 247.9,480.9 248.8,481.3 249.7,481.8 250.6,482.4 251.5,483 252.5,483.7 253.4,484.4 254.4,485.2 255.3,485.8 256.2,486.5 257.3,487.3 258.4,488.3 259.5,489.3 260.6,490.4 261.8,491.5 262.9,492.6 264,493.7 265.1,494.8 266.2,495.7 267.3,496.5 268.3,497.1 269.3,497.6 269.9,497.8 270.5,498 271,498.1 271.5,498.2 272.1,498.3 272.6,498.3 273.1,498.3 273.7,498.2 274.2,498.1 274.8,498 275.3,497.8 275.9,497.6 276.9,497.1 278,496.5 279,495.7 280.1,494.8 281.3,493.8 282.4,492.8 283.6,491.6 284.7,490.4 285.8,489.1 286.9,487.8 288,486.5 289,485.2 290.2,483.6 291.4,481.8 292.5,479.9 293.6,478 294.6,476 295.7,473.9 296.7,471.8 297.8,469.7 298.8,467.7 299.8,465.6 300.9,463.6 302,461.6 303.1,459.7 304.1,457.7 305.2,455.7 306.2,453.7 307.2,451.8 308.3,449.8 309.4,447.9 310.5,446 311.6,444.2 312.7,442.4 313.9,440.8 315.2,439.3 316.3,438.1 317.4,436.8 318.6,435.6 319.8,434.3 321,433.1 322.3,432 323.5,431 324.8,430.1 326,429.4 327.2,428.8 328.4,428.4 329.6,428.2 330.6,428.2 331.6,428.4 332.6,428.7 333.6,429.2 334.6,429.7 335.6,430.4 336.6,431.1 337.6,431.9 338.5,432.7 339.5,433.6 340.5,434.5 341.4,435.4 342.7,436.7 343.9,438.1 345.2,439.7 346.4,441.4 347.6,443.1 348.8,445 350,446.9 351.2,448.8 352.3,450.7 353.5,452.6 354.7,454.5 355.8,456.3 356.9,458.1 358.1,460 359.2,461.8 360.3,463.7 361.3,465.5 362.4,467.4 363.5,469.3 364.6,471.2 365.6,473.1 366.7,474.9 367.8,476.8 368.9,478.6 370,480.4 371.1,482.2 372.1,484 373.2,485.8 374.3,487.6 375.4,489.3 376.5,491.1 377.5,492.8 378.6,494.6 379.8,496.3 380.9,498 382,499.6 383.1,501.1 384.1,502.6 385.2,504.1 386.2,505.5 387.3,506.9 388.4,508.4 389.4,509.8 390.5,511.1 391.6,512.5 392.8,513.9 393.9,515.2 395.1,516.6 396.3,518 397.6,519.4 398.8,520.8 400.1,522.2 401.4,523.5 402.7,524.9 404,526.3 405.4,527.6 406.7,528.8 408.1,530 409.4,531.2 410.8,532.3 412.1,533.2 413.3,534.1 414.6,535 415.8,535.8 417.1,536.6 418.4,537.4 419.7,538.1 421,538.8 422.4,539.5 423.7,540.2 425.1,540.9 426.5,541.5 428,542.2 429.6,542.8 431.2,543.4 432.8,544 434.4,544.5 436,545.1 437.7,545.6 439.4,546.1 441.1,546.6 442.8,547 444.5,547.5 446.2,548 448.1,548.5 450,548.9 452,549.4 454,549.8 456,550.2 458.1,550.5 460.1,550.9 462.1,551.3 464.1,551.8 466.1,552.2 468.1,552.7 470,553.3 471.8,553.9 473.6,554.5 475.3,555.2 477,555.9 478.7,556.7 480.4,557.4 482.1,558.2 483.8,559 485.6,559.7 487.3,560.5 489.2,561.2 491.1,561.9 493.5,562.7 495.9,563.5 498.4,564.4 501,565.2 503.6,566 506.2,566.8 508.9,567.6 511.6,568.4 514.2,569.1 516.9,569.8 519.6,570.5 522.2,571.2 524.8,571.8 527.4,572.4 530,572.9 532.6,573.4 535.2,573.8 537.8,574.3 540.4,574.7 543,575.2 545.6,575.7 548.2,576.2 550.8,576.8 553.4,577.4 556,578.1 558.6,578.8 561.2,579.5 563.8,580.2 566.4,581 569,581.8 571.6,582.6 574.2,583.4 576.8,584.2 579.3,585.1 581.9,585.9 584.5,586.8 587.1,587.7 589.8,588.6 592.4,589.5 595.1,590.5 597.8,591.5 600.5,592.5 603.1,593.5 605.7,594.4 608.3,595.4 610.8,596.4 613.2,597.3 615.6,598.2 617.5,598.9 619.3,599.7 621.1,600.5 622.8,601.3 624.5,602.1 626.2,602.9 627.8,603.6 629.5,604.3 631.2,605 632.9,605.6 634.6,606.1 636.3,606.5 638,606.8 639.7,607.1 641.4,607.3 643.2,607.5 644.9,607.6 646.7,607.7 648.4,607.7 650.1,607.7 651.9,607.7 653.6,607.6 655.4,607.6 657.1,607.5 658.8,607.4 660.5,607.3 662.2,607.1 663.9,607 665.6,606.8 667.2,606.5 668.9,606.3 670.6,606 672.4,605.6 674.1,605.3 675.9,604.9 677.8,604.4 680.2,603.8 682.7,603 685.2,602.2 687.8,601.4 690.4,600.5 693.1,599.5 695.8,598.5 698.5,597.5 701.1,596.4 703.8,595.3 706.4,594.1 709,593 711.6,591.8 714.2,590.5 716.8,589.2 719.4,587.8 722,586.4 724.6,585 727.2,583.5 729.8,582 732.3,580.6 734.9,579.2 737.5,577.8 740.1,576.4 742.7,575.1 745.3,573.7 747.9,572.4 750.4,571.1 753,569.8 755.6,568.5 758.2,567.2 760.8,565.9 763.4,564.6 766,563.3 768.6,562.1 771.2,560.8 773.8,559.5 776.3,558.3 778.9,557 781.4,555.8 784,554.5 786.5,553.3 789.1,552.1 791.6,550.9 794.3,549.7 796.9,548.5 799.6,547.4 802.3,546.3 805.3,545.1 808.5,544 811.7,542.8 815,541.6 818.3,540.5 821.6,539.4 824.9,538.3 828.1,537.3 831.3,536.4 834.3,535.5 837.2,534.6 840,533.9 841.9,533.4 843.6,532.9 845.3,532.5 847,532.1 848.5,531.7 850.1,531.4 851.7,531.1 853.3,530.8 854.9,530.5 856.6,530.2 858.4,530 860.3,529.8 863.1,529.6 866,529.4 869,529.3 872.1,529.2 875.4,529.2 878.6,529.2 882,529.2 885.3,529.3 888.7,529.4 892,529.5 895.3,529.6 898.5,529.8 901.7,530 904.9,530.2 908.1,530.5 911.3,530.8 914.5,531.2 917.7,531.5 920.8,531.9 924,532.3 927.2,532.6 930.4,533 933.6,533.3 936.8,533.6 940,533.9 943.2,534.2 946.3,534.4 949.5,534.7 952.7,535 955.9,535.3 959.1,535.5 962.3,535.7 965.4,535.9 968.6,536.1 971.8,536.2 975,536.3 978.2,536.3 981.4,536.4 984.5,536.3 987.7,536.3 990.9,536.2 994.1,536.1 997.3,536 1000.5,535.8 1003.7,535.7 1006.8,535.5 1010,535.4 1013.2,535.2 1016.4,535 1019.6,534.8 1022.8,534.6 1025.9,534.4 1029.1,534.1 1032.3,533.9 1035.5,533.6 1038.7,533.4 1041.8,533.2 1045,532.9 1048.2,532.7 1051.4,532.5 1054.6,532.3 1057.8,532.1 1061.1,532 1064.3,531.8 1067.5,531.7 1070.8,531.6 1074,531.4 1077.2,531.3 1080.4,531.1 1083.5,531 1086.6,530.8 1089.6,530.6 1092.2,530.4 1094.8,530.2 1097.4,529.9 1099.9,529.6 1102.3,529.3 1104.8,529 1107.2,528.7 1109.7,528.5 1112.2,528.3 1114.8,528.1 1117.3,528 1120,528 1123.1,528.1 1126.2,528.2 1129.4,528.4 1132.6,528.7 1135.9,529 1139.2,529.4 1142.5,529.8 1145.8,530.2 1149.1,530.6 1152.4,531.1 1155.6,531.5 1158.9,531.9 1162.1,532.3 1165.4,532.7 1168.6,533.2 1171.8,533.6 1175.1,534.1 1178.3,534.6 1181.5,535.1 1184.8,535.6 1188,536.1 1191.2,536.6 1194.5,537.2 1197.7,537.7 1200.9,538.2 1204.2,538.8 1207.4,539.3 1210.7,539.9 1213.9,540.5 1217.2,541.1 1220.4,541.7 1223.6,542.3 1226.9,542.9 1230.1,543.5 1233.4,544.1 1236.6,544.7 1239.8,545.3 1243.1,546 1246.3,546.6 1249.6,547.3 1252.8,548 1256,548.7 1259.3,549.3 1262.5,550 1265.8,550.7 1269,551.3 1272.3,551.9 1275.5,552.5 1278.7,553.1 1282,553.6 1285.2,554.2 1288.4,554.7 1291.6,555.2 1294.9,555.7 1298.1,556.2 1301.3,556.6 1304.6,557.1 1307.8,557.5 1311.1,557.9 1314.3,558.3 1317.5,558.7 1320.8,559 1324,559.3 1327.2,559.6 1330.5,559.9 1333.7,560.2 1337,560.5 1340.2,560.7 1343.5,560.9 1346.7,561.1 1350,561.3 1353.2,561.4 1356.4,561.5 1359.7,561.6 1362.9,561.6 1366.2,561.6 1369.4,561.6 1372.6,561.6 1375.9,561.6 1379.1,561.5 1382.4,561.5 1385.6,561.4 1388.9,561.4 1392.1,561.4 1395.3,561.4 1398.6,561.4 1401.8,561.5 1405,561.5 1408.3,561.6 1411.5,561.6 1414.7,561.6 1418,561.6 1421.2,561.6 1424.4,561.6 1427.7,561.5 1430.9,561.4 1434.1,561.3 1437.4,561.1 1440.6,560.9 1443.9,560.6 1447.1,560.4 1450.4,560.1 1453.6,559.8 1456.8,559.5 1460.1,559.2 1463.3,558.9 1466.6,558.6 1469.8,558.3 1473,558 1476.3,557.7 1479.5,557.4 1482.7,557.1 1486,556.7 1489.2,556.4 1492.4,556.1 1495.7,555.7 1498.9,555.4 1502.1,555.1 1505.4,554.7 1508.6,554.4 1511.8,554.1 1515.1,553.7 1518.3,553.4 1521.6,553.1 1524.8,552.7 1528,552.4 1531.3,552.1 1534.5,551.7 1537.8,551.4 1541,551.1 1544.3,550.8 1547.5,550.5 1550.7,550.2 1554,549.9 1557.2,549.6 1560.5,549.4 1563.7,549.1 1566.9,548.8 1570.2,548.6 1573.4,548.3 1576.7,548.1 1579.9,547.8 1583.2,547.6 1586.4,547.4 1589.6,547.2 1592.9,547 1596.1,546.8 1599.3,546.7 1602.6,546.5 1605.8,546.4 1609,546.2 1612.3,546.1 1615.5,545.9 1618.7,545.8 1622,545.6 1625.2,545.5 1628.4,545.4 1631.7,545.2 1634.9,545.1 1638.2,544.9 1641.4,544.8 1644.6,544.6 1647.9,544.5 1651.1,544.3 1654.4,544.2 1657.6,544.1 1660.9,544 1664.1,543.9 1667.3,543.8 1670.6,543.8 1673.8,543.7 1677.1,543.7 1680.3,543.7 1683.6,543.6 1686.8,543.6 1690,543.6 1693.3,543.6 1696.5,543.6 1699.8,543.5 1703,543.5 1706.2,543.5 1709.5,543.4 1712.7,543.4 1715.9,543.4 1719.2,543.3 1722.4,543.3 1725.6,543.3 1728.9,543.2 1732.1,543.1 1735.3,543 1738.6,542.9 1741.8,542.8 1745.1,542.6 1748.4,542.4 1751.7,542.2 1755.1,542 1758.4,541.7 1761.8,541.4 1765.1,541.2 1768.3,540.9 1771.5,540.6 1774.7,540.4 1777.7,540.2 1780.7,540 1783,539.9 1785.3,539.8 1787.5,539.7 1789.7,539.6 1791.8,539.5 1793.9,539.4 1796,539.3 1798,539.2 1800.1,539.2 1802.2,539.1 1804.3,539 1806.4,538.9" fill="none" stroke="#000" stroke-width="9.6" stroke-linejoin="round" stroke-linecap="round"/>
<g fill="none" stroke="#e8000b" stroke-width="3"><circle cx="180.1" cy="1017" r="9.0"/><circle cx="180.5" cy="1016" r="9.0"/><circle cx="181.5" cy="1012.7" r="9.0"/><circle cx="183.2" cy="1007.3" r="9.0"/><circle cx="185.5" cy="998.5" r="9.0"/><circle cx="188.6" cy="978.2" r="9.0"/><circle cx="192.3" cy="955.2" r="9.0"/><circle cx="196.7" cy="925.8" r="9.0"/><circle cx="201.7" cy="887.8" r="9.0"/><circle cx="207.4" cy="844.4" r="9.0"/><circle cx="213.8" cy="797.6" r="9.0"/><circle cx="220.9" cy="751.1" r="9.0"/><circle cx="228.7" cy="699.8" r="9.0"/><circle cx="237.1" cy="667.1" r="9.0"/><circle cx="246.2" cy="648.6" r="9.0"/><circle cx="255.9" cy="655" r="9.0"/><circle cx="266.4" cy="678.6" r="9.0"/><circle cx="277.5" cy="665.7" r="9.0"/><circle cx="289.3" cy="651.9" r="9.0"/><circle cx="301.8" cy="630.4" r="9.0"/><circle cx="314.9" cy="609.4" r="9.0"/><circle cx="328.7" cy="594.3" r="9.0"/><circle cx="343.2" cy="609.9" r="9.0"/><circle cx="358.4" cy="634.7" r="9.0"/><circle cx="374.2" cy="666" r="9.0"/><circle cx="390.7" cy="688.4" r="9.0"/><circle cx="407.9" cy="706.3" r="9.0"/><circle cx="425.7" cy="716.2" r="9.0"/><circle cx="444.3" cy="722.4" r="9.0"/><circle cx="463.5" cy="727.2" r="9.0"/><circle cx="483.3" cy="733.4" r="9.0"/><circle cx="503.9" cy="740.6" r="9.0"/><circle cx="525.1" cy="747.3" r="9.0"/><circle cx="547" cy="752.2" r="9.0"/><circle cx="569.6" cy="758.9" r="9.0"/><circle cx="592.8" cy="767.1" r="9.0"/><circle cx="616.8" cy="776.1" r="9.0"/><circle cx="641.3" cy="784.7" r="9.0"/><circle cx="666.6" cy="784.1" r="9.0"/><circle cx="692.6" cy="776.6" r="9.0"/><circle cx="719.2" cy="764.2" r="9.0"/><circle cx="746.5" cy="749.1" r="9.0"/><circle cx="774.4" cy="733.5" r="9.0"/><circle cx="803.1" cy="721.3" r="9.0"/><circle cx="832.4" cy="712.1" r="9.0"/><circle cx="862.3" cy="707.4" r="9.0"/><circle cx="893" cy="708.1" r="9.0"/><circle cx="924.3" cy="709.5" r="9.0"/><circle cx="956.3" cy="711.3" r="9.0"/><circle cx="989" cy="712.3" r="9.0"/><circle cx="1022.4" cy="711.9" r="9.0"/><circle cx="1056.4" cy="710.6" r="9.0"/><circle cx="1091.1" cy="708.2" r="9.0"/><circle cx="1126.5" cy="706.7" r="9.0"/><circle cx="1162.5" cy="710.3" r="9.0"/><circle cx="1199.2" cy="716" r="9.0"/><circle cx="1236.6" cy="723.5" r="9.0"/><circle cx="1274.7" cy="731.1" r="9.0"/><circle cx="1313.4" cy="736.2" r="9.0"/><circle cx="1352.9" cy="739" r="9.0"/><circle cx="1392.9" cy="739" r="9.0"/><circle cx="1433.7" cy="738" r="9.0"/><circle cx="1475.2" cy="734.7" r="9.0"/><circle cx="1517.3" cy="731.8" r="9.0"/><circle cx="1560" cy="728.1" r="9.0"/><circle cx="1603.5" cy="724" r="9.0"/><circle cx="1647.6" cy="721.9" r="9.0"/><circle cx="1692.4" cy="721" r="9.0"/><circle cx="1737.9" cy="719.7" r="9.0"/><circle cx="1784.1" cy="718.7" r="9.0"/></g>
<path d="M180.2,1017 180.6,1015.5 181.1,1014 181.6,1012.5 182.1,1011 182.5,1009.4 183,1007.9 183.5,1006.4 183.9,1004.9 184.3,1003.4 184.7,1001.8 185.1,1000.3 185.5,998.7 185.8,997 186.2,995.4 186.4,993.7 186.7,992 186.9,990.2 187.2,988.5 187.4,986.8 187.6,985 187.9,983.3 188.1,981.5 188.3,979.8 188.6,978 188.9,976.1 189.2,974.3 189.5,972.4 189.8,970.5 190.1,968.6 190.4,966.8 190.7,964.8 191,962.9 191.4,961 191.7,959 192,957 192.3,955 192.7,952.7 193,950.3 193.4,948 193.7,945.6 194.1,943.2 194.5,940.7 194.9,938.2 195.2,935.7 195.6,933.2 196,930.7 196.3,928.1 196.7,925.5 197.1,922.5 197.5,919.5 197.9,916.5 198.4,913.4 198.8,910.3 199.2,907.1 199.6,903.9 200,900.7 200.4,897.5 200.8,894.3 201.3,891 201.7,887.8 202.2,884.3 202.6,880.8 203.1,877.2 203.6,873.7 204,870.1 204.5,866.5 205,862.9 205.5,859.2 205.9,855.6 206.4,851.9 206.9,848.3 207.4,844.6 207.9,840.8 208.4,836.9 209,833 209.5,829.1 210,825.2 210.5,821.3 211.1,817.4 211.6,813.5 212.1,809.5 212.7,805.6 213.2,801.7 213.8,797.8 214.4,793.9 214.9,790.1 215.5,786.2 216.1,782.3 216.7,778.5 217.3,774.6 217.9,770.8 218.5,766.9 219.1,763 219.7,759.1 220.3,755.2 220.9,751.2 221.5,746.9 222.2,742.5 222.9,737.9 223.5,733.3 224.2,728.6 224.8,724 225.5,719.5 226.2,715.1 226.8,710.8 227.5,706.8 228.1,703 228.7,699.6 229.1,697.6 229.4,695.7 229.8,693.9 230.1,692.2 230.5,690.5 230.8,688.9 231.2,687.4 231.5,685.9 231.9,684.4 232.2,682.9 232.6,681.5 233,680 233.3,678.8 233.6,677.6 234,676.5 234.3,675.3 234.6,674.2 235,673.1 235.3,672 235.7,671 236,669.9 236.4,668.9 236.7,668 237.1,667 237.4,666.2 237.7,665.5 238,664.8 238.3,664.1 238.6,663.4 238.9,662.7 239.2,662.1 239.6,661.4 239.9,660.8 240.3,660.2 240.6,659.6 241,659 241.3,658.5 241.7,657.9 242,657.3 242.4,656.7 242.7,656.2 243.1,655.6 243.5,655.1 243.9,654.7 244.3,654.3 244.7,654 245.2,653.7 245.7,653.6 246.4,653.6 247.2,653.8 248,654.1 248.9,654.5 249.8,655.1 250.7,655.7 251.7,656.5 252.6,657.2 253.6,658 254.5,658.8 255.4,659.5 256.2,660.2 257.1,661 257.9,661.9 258.7,662.9 259.5,663.9 260.3,665 261.1,666.1 261.9,667.1 262.7,668.1 263.5,668.9 264.3,669.6 265.2,670.2 266,670.5 266.7,670.6 267.4,670.7 268.1,670.7 268.8,670.6 269.5,670.4 270.2,670.2 270.9,669.9 271.6,669.6 272.3,669.3 273,668.9 273.8,668.4 274.5,668 275.7,667.2 276.9,666.3 278.1,665.2 279.3,664 280.6,662.7 281.8,661.3 283.1,659.9 284.3,658.4 285.5,656.9 286.7,655.3 287.9,653.8 289,652.3 290.2,650.6 291.3,648.9 292.5,647.1 293.5,645.2 294.6,643.3 295.7,641.4 296.7,639.5 297.7,637.6 298.8,635.6 299.8,633.7 300.9,631.8 302,630 303.1,628.2 304.1,626.3 305.2,624.5 306.2,622.6 307.3,620.7 308.3,618.9 309.4,617.1 310.5,615.3 311.6,613.6 312.7,612 313.9,610.5 315.2,609.1 316.3,608 317.4,606.8 318.6,605.7 319.8,604.5 321.1,603.5 322.3,602.5 323.6,601.5 324.8,600.7 326,600.1 327.3,599.6 328.4,599.3 329.6,599.2 330.6,599.3 331.7,599.6 332.7,600 333.7,600.6 334.7,601.2 335.6,602 336.6,602.9 337.6,603.8 338.5,604.8 339.5,605.8 340.5,606.8 341.4,607.8 342.7,609.2 343.9,610.8 345.2,612.4 346.4,614.2 347.6,616.1 348.8,618 350,619.9 351.2,622 352.4,624 353.5,626 354.7,628 355.8,630 357,632.1 358.1,634.2 359.2,636.4 360.3,638.6 361.4,640.8 362.4,643.1 363.5,645.3 364.5,647.5 365.6,649.8 366.7,651.9 367.8,654.1 368.9,656.2 370,658.2 371,660.1 372.1,662.1 373.1,664 374.2,666 375.3,667.9 376.4,669.8 377.4,671.6 378.6,673.4 379.7,675.2 380.8,676.9 382,678.5 383,679.9 384.1,681.2 385.1,682.4 386.2,683.6 387.3,684.8 388.4,686 389.5,687.1 390.6,688.2 391.7,689.4 392.8,690.5 393.9,691.7 395.1,692.9 396.3,694.2 397.6,695.6 398.9,697 400.1,698.4 401.4,699.8 402.7,701.2 404,702.6 405.3,703.9 406.7,705.2 408,706.4 409.4,707.5 410.8,708.6 412,709.5 413.3,710.3 414.6,711 415.8,711.7 417.1,712.4 418.4,713 419.7,713.6 421,714.2 422.4,714.8 423.7,715.4 425.1,715.9 426.5,716.5 428,717.1 429.6,717.7 431.2,718.3 432.8,718.9 434.4,719.4 436,719.9 437.7,720.5 439.4,721 441.1,721.5 442.8,722 444.5,722.5 446.2,723 448.1,723.5 450,724 452,724.5 454,725 456,725.5 458.1,725.9 460.1,726.4 462.1,726.9 464.1,727.3 466.1,727.8 468.1,728.4 470,728.9 471.8,729.4 473.6,730 475.3,730.6 477,731.1 478.7,731.7 480.4,732.3 482.1,732.9 483.8,733.6 485.6,734.2 487.4,734.8 489.2,735.5 491.1,736.1 493.5,736.9 495.9,737.8 498.4,738.6 501,739.5 503.6,740.5 506.2,741.4 508.9,742.3 511.6,743.2 514.3,744.1 516.9,744.9 519.6,745.7 522.2,746.5 524.8,747.2 527.4,747.9 530,748.5 532.6,749 535.2,749.6 537.8,750.2 540.4,750.7 543,751.3 545.6,751.8 548.2,752.5 550.8,753.1 553.4,753.8 556,754.6 558.6,755.3 561.2,756.1 563.8,757 566.4,757.8 569,758.7 571.6,759.6 574.2,760.5 576.7,761.4 579.3,762.3 581.9,763.2 584.5,764.1 587.1,765 589.8,766 592.4,766.9 595.1,767.9 597.8,768.9 600.5,769.9 603.1,770.9 605.7,771.8 608.3,772.8 610.8,773.8 613.2,774.7 615.6,775.6 617.5,776.4 619.3,777.1 621.1,777.9 622.8,778.7 624.5,779.5 626.2,780.3 627.8,781 629.5,781.7 631.2,782.4 632.9,783 634.6,783.5 636.3,783.9 638,784.2 639.7,784.5 641.4,784.7 643.2,784.9 644.9,785 646.7,785.1 648.4,785.1 650.1,785.1 651.9,785.1 653.6,785 655.4,785 657.1,784.9 658.8,784.8 660.5,784.7 662.2,784.6 663.9,784.4 665.6,784.2 667.2,784 668.9,783.7 670.6,783.4 672.4,783.1 674.2,782.7 676,782.3 677.8,781.8 680.2,781.1 682.7,780.3 685.2,779.4 687.8,778.5 690.4,777.5 693.1,776.4 695.8,775.3 698.5,774.1 701.1,772.9 703.8,771.7 706.4,770.5 709,769.3 711.6,768.1 714.2,766.8 716.8,765.4 719.4,764.1 722,762.7 724.6,761.3 727.2,759.9 729.8,758.4 732.4,757 734.9,755.6 737.5,754.1 740.1,752.7 742.7,751.3 745.3,749.8 747.9,748.3 750.5,746.8 753,745.2 755.6,743.7 758.2,742.2 760.8,740.7 763.4,739.3 766,737.8 768.6,736.4 771.2,735.1 773.8,733.8 776.3,732.6 778.8,731.4 781.4,730.2 783.9,729.1 786.5,727.9 789,726.8 791.6,725.8 794.2,724.7 796.9,723.6 799.6,722.6 802.3,721.6 805.3,720.5 808.5,719.4 811.7,718.3 815,717.2 818.3,716.2 821.6,715.1 824.9,714.2 828.1,713.2 831.3,712.3 834.3,711.5 837.2,710.8 840,710.2 841.9,709.8 843.6,709.5 845.3,709.1 847,708.9 848.5,708.6 850.1,708.4 851.7,708.2 853.3,708 854.9,707.9 856.6,707.7 858.4,707.6 860.3,707.5 863.1,707.4 866,707.3 869,707.3 872.1,707.3 875.4,707.4 878.6,707.5 882,707.6 885.3,707.8 888.7,707.9 892,708 895.3,708.2 898.5,708.3 901.7,708.4 904.9,708.6 908.1,708.7 911.3,708.9 914.5,709 917.7,709.2 920.8,709.4 924,709.5 927.2,709.7 930.4,709.9 933.6,710 936.8,710.2 940,710.4 943.2,710.5 946.4,710.7 949.5,710.9 952.7,711.1 955.9,711.3 959.1,711.4 962.3,711.6 965.4,711.8 968.6,711.9 971.8,712 975,712.1 978.2,712.2 981.4,712.2 984.5,712.3 987.7,712.3 990.9,712.3 994.1,712.3 997.3,712.3 1000.5,712.3 1003.7,712.2 1006.8,712.2 1010,712.1 1013.2,712.1 1016.4,712 1019.6,712 1022.8,711.9 1025.9,711.8 1029.1,711.8 1032.3,711.7 1035.5,711.6 1038.7,711.4 1041.9,711.3 1045,711.2 1048.2,711.1 1051.4,710.9 1054.6,710.7 1057.8,710.5 1061.1,710.3 1064.3,710.1 1067.5,709.9 1070.8,709.6 1074,709.4 1077.2,709.2 1080.4,708.9 1083.5,708.7 1086.6,708.5 1089.6,708.3 1092.2,708.1 1094.8,707.9 1097.4,707.7 1099.9,707.5 1102.3,707.3 1104.8,707.1 1107.2,706.9 1109.7,706.7 1112.2,706.6 1114.8,706.5 1117.3,706.5 1120,706.5 1123.1,706.6 1126.2,706.7 1129.4,706.9 1132.6,707.1 1135.9,707.4 1139.2,707.7 1142.5,708 1145.8,708.4 1149.1,708.7 1152.4,709.1 1155.6,709.5 1158.9,709.9 1162.1,710.3 1165.4,710.7 1168.6,711.1 1171.9,711.6 1175.1,712 1178.3,712.5 1181.6,713 1184.8,713.5 1188,714.1 1191.2,714.6 1194.5,715.1 1197.7,715.7 1200.9,716.3 1204.2,716.9 1207.4,717.5 1210.7,718.2 1213.9,718.8 1217.2,719.5 1220.4,720.2 1223.6,720.8 1226.9,721.5 1230.1,722.2 1233.4,722.8 1236.6,723.5 1239.8,724.2 1243.1,724.8 1246.3,725.5 1249.6,726.2 1252.8,726.8 1256,727.5 1259.3,728.2 1262.5,728.8 1265.8,729.5 1269,730.1 1272.3,730.6 1275.5,731.2 1278.7,731.7 1282,732.2 1285.2,732.7 1288.4,733.2 1291.6,733.6 1294.9,734.1 1298.1,734.5 1301.3,734.9 1304.6,735.3 1307.8,735.6 1311.1,736 1314.3,736.3 1317.5,736.6 1320.8,736.9 1324,737.2 1327.3,737.5 1330.5,737.7 1333.7,738 1337,738.2 1340.2,738.4 1343.5,738.6 1346.7,738.7 1350,738.9 1353.2,739 1356.4,739.1 1359.7,739.2 1362.9,739.2 1366.2,739.2 1369.4,739.2 1372.7,739.2 1375.9,739.2 1379.1,739.2 1382.4,739.1 1385.6,739.1 1388.9,739 1392.1,739 1395.3,739 1398.6,738.9 1401.8,738.9 1405,738.9 1408.3,738.8 1411.5,738.8 1414.7,738.7 1418,738.7 1421.2,738.6 1424.4,738.5 1427.7,738.3 1430.9,738.2 1434.1,738 1437.4,737.8 1440.6,737.6 1443.9,737.3 1447.1,737.1 1450.4,736.8 1453.6,736.5 1456.8,736.2 1460.1,735.9 1463.3,735.6 1466.6,735.4 1469.8,735.1 1473,734.9 1476.3,734.6 1479.5,734.4 1482.7,734.2 1486,734 1489.2,733.8 1492.4,733.5 1495.7,733.3 1498.9,733.1 1502.1,732.9 1505.4,732.6 1508.6,732.4 1511.8,732.2 1515.1,731.9 1518.3,731.7 1521.6,731.4 1524.8,731.2 1528.1,730.9 1531.3,730.7 1534.5,730.4 1537.8,730.1 1541,729.9 1544.3,729.6 1547.5,729.3 1550.7,729 1554,728.7 1557.2,728.4 1560.5,728 1563.7,727.7 1567,727.3 1570.2,727 1573.4,726.6 1576.7,726.3 1579.9,726 1583.2,725.7 1586.4,725.4 1589.6,725.1 1592.9,724.9 1596.1,724.6 1599.3,724.4 1602.6,724.1 1605.8,723.9 1609,723.7 1612.3,723.4 1615.5,723.2 1618.7,723 1622,722.9 1625.2,722.7 1628.4,722.5 1631.7,722.4 1634.9,722.3 1638.2,722.2 1641.4,722.1 1644.6,722 1647.9,721.9 1651.1,721.8 1654.4,721.7 1657.6,721.7 1660.9,721.6 1664.1,721.5 1667.3,721.4 1670.6,721.4 1673.8,721.3 1677.1,721.2 1680.3,721.2 1683.6,721.2 1686.8,721.1 1690,721.1 1693.3,721 1696.5,720.9 1699.8,720.9 1703,720.8 1706.2,720.7 1709.5,720.6 1712.7,720.5 1715.9,720.4 1719.2,720.3 1722.4,720.2 1725.6,720.1 1728.9,720 1732.1,719.9 1735.3,719.8 1738.6,719.7 1741.8,719.6 1745.1,719.5 1748.4,719.4 1751.7,719.4 1755.1,719.3 1758.4,719.2 1761.7,719.2 1765.1,719.1 1768.3,719 1771.5,719 1774.7,718.9 1777.7,718.9 1780.7,718.8 1783,718.8 1785.3,718.7 1787.5,718.7 1789.7,718.7 1791.8,718.6 1793.9,718.6 1796,718.6 1798,718.5 1800.1,718.5 1802.2,718.5 1804.3,718.4 1806.4,718.4" fill="none" stroke="#000" stroke-width="9.6" stroke-linejoin="round" stroke-linecap="round"/>
<g fill="none" stroke="#e8000b" stroke-width="3"><circle cx="180.1" cy="1200.7" r="9.0"/><circle cx="180.5" cy="1199.6" r="9.0"/><circle cx="181.5" cy="1195.8" r="9.0"/><circle cx="183.2" cy="1189.3" r="9.0"/><circle cx="185.5" cy="1179.5" r="9.0"/><circle cx="188.6" cy="1165.2" r="9.0"/><circle cx="192.3" cy="1146.4" r="9.0"/><circle cx="196.7" cy="1117.3" r="9.0"/><circle cx="201.7" cy="1078.7" r="9.0"/><circle cx="207.4" cy="1030.4" r="9.0"/><circle cx="213.8" cy="975.3" r="9.0"/><circle cx="220.9" cy="925.9" r="9.0"/><circle cx="228.7" cy="881.1" r="9.0"/><circle cx="237.1" cy="850.5" r="9.0"/><circle cx="246.2" cy="831.9" r="9.0"/><circle cx="255.9" cy="836.3" r="9.0"/><circle cx="266.4" cy="859.8" r="9.0"/><circle cx="277.5" cy="852.4" r="9.0"/><circle cx="289.3" cy="835.7" r="9.0"/><circle cx="301.8" cy="813" r="9.0"/><circle cx="314.9" cy="792" r="9.0"/><circle cx="328.7" cy="775.6" r="9.0"/><circle cx="343.2" cy="791.1" r="9.0"/><circle cx="358.4" cy="814.3" r="9.0"/><circle cx="374.2" cy="843.1" r="9.0"/><circle cx="390.7" cy="866.8" r="9.0"/><circle cx="407.9" cy="883.8" r="9.0"/><circle cx="425.7" cy="893.6" r="9.0"/><circle cx="444.3" cy="899.8" r="9.0"/><circle cx="463.5" cy="905.1" r="9.0"/><circle cx="483.3" cy="912.2" r="9.0"/><circle cx="503.9" cy="918.7" r="9.0"/><circle cx="525.1" cy="924" r="9.0"/><circle cx="547" cy="928.8" r="9.0"/><circle cx="569.6" cy="935.7" r="9.0"/><circle cx="592.8" cy="943.7" r="9.0"/><circle cx="616.8" cy="951.7" r="9.0"/><circle cx="641.3" cy="959.3" r="9.0"/><circle cx="666.6" cy="958.7" r="9.0"/><circle cx="692.6" cy="951.8" r="9.0"/><circle cx="719.2" cy="940.1" r="9.0"/><circle cx="746.5" cy="924.9" r="9.0"/><circle cx="774.4" cy="909.1" r="9.0"/><circle cx="803.1" cy="895" r="9.0"/><circle cx="832.4" cy="887.5" r="9.0"/><circle cx="862.3" cy="882.4" r="9.0"/><circle cx="893" cy="882.3" r="9.0"/><circle cx="924.3" cy="884.3" r="9.0"/><circle cx="956.3" cy="886.5" r="9.0"/><circle cx="989" cy="887.6" r="9.0"/><circle cx="1022.4" cy="887.3" r="9.0"/><circle cx="1056.4" cy="885.9" r="9.0"/><circle cx="1091.1" cy="882.4" r="9.0"/><circle cx="1126.5" cy="882.2" r="9.0"/><circle cx="1162.5" cy="885.4" r="9.0"/><circle cx="1199.2" cy="891.1" r="9.0"/><circle cx="1236.6" cy="898.6" r="9.0"/><circle cx="1274.7" cy="906.3" r="9.0"/><circle cx="1313.4" cy="912.1" r="9.0"/><circle cx="1352.9" cy="914.9" r="9.0"/><circle cx="1392.9" cy="914.9" r="9.0"/><circle cx="1433.7" cy="914" r="9.0"/><circle cx="1475.2" cy="911" r="9.0"/><circle cx="1517.3" cy="907.5" r="9.0"/><circle cx="1560" cy="903.3" r="9.0"/><circle cx="1603.5" cy="900.3" r="9.0"/><circle cx="1647.6" cy="898.8" r="9.0"/><circle cx="1692.4" cy="898.6" r="9.0"/><circle cx="1737.9" cy="898.7" r="9.0"/><circle cx="1784.1" cy="895.7" r="9.0"/></g>
<path d="M180.2,1200.7 180.6,1199.3 180.9,1197.9 181.3,1196.6 181.6,1195.2 182,1193.8 182.4,1192.4 182.7,1191 183.1,1189.7 183.5,1188.3 183.8,1186.9 184.2,1185.4 184.5,1184 184.9,1182.5 185.2,1180.9 185.6,1179.3 185.9,1177.8 186.3,1176.2 186.6,1174.6 186.9,1173 187.3,1171.4 187.6,1169.8 187.9,1168.2 188.3,1166.6 188.6,1165 188.9,1163.4 189.2,1161.9 189.6,1160.4 189.9,1158.9 190.2,1157.4 190.5,1155.9 190.8,1154.3 191.1,1152.8 191.4,1151.2 191.7,1149.6 192,1147.9 192.3,1146.2 192.7,1144 193,1141.8 193.4,1139.5 193.8,1137.1 194.1,1134.7 194.5,1132.3 194.9,1129.8 195.2,1127.3 195.6,1124.7 196,1122.2 196.3,1119.6 196.7,1117 197.1,1114 197.5,1111 198,1107.9 198.4,1104.8 198.8,1101.6 199.2,1098.4 199.6,1095.2 200,1092 200.4,1088.7 200.9,1085.4 201.3,1082.1 201.7,1078.7 202.2,1074.9 202.6,1071.1 203.1,1067.2 203.6,1063.2 204.1,1059.3 204.5,1055.2 205,1051.2 205.5,1047.1 206,1043.1 206.4,1039 206.9,1034.8 207.4,1030.7 207.9,1026.2 208.4,1021.7 209,1017.1 209.5,1012.5 210,1007.9 210.5,1003.2 211,998.5 211.6,993.9 212.1,989.3 212.7,984.7 213.2,980.1 213.8,975.6 214.4,971.4 214.9,967.1 215.5,963 216.1,958.8 216.6,954.6 217.2,950.5 217.8,946.4 218.4,942.3 219,938.2 219.6,934.1 220.3,930 220.9,926 221.5,922.1 222.2,918.1 222.8,914.1 223.5,910 224.1,906 224.8,902 225.5,898.1 226.2,894.3 226.8,890.7 227.5,887.2 228.1,883.9 228.7,880.9 229.1,879.1 229.4,877.4 229.8,875.8 230.1,874.2 230.5,872.7 230.8,871.2 231.2,869.8 231.5,868.4 231.9,867 232.3,865.7 232.6,864.3 233,863 233.3,861.9 233.7,860.7 234,859.6 234.3,858.5 234.6,857.4 235,856.4 235.3,855.3 235.7,854.3 236,853.3 236.4,852.3 236.7,851.3 237.1,850.4 237.4,849.6 237.7,848.9 238,848.1 238.3,847.4 238.6,846.6 238.9,845.9 239.2,845.2 239.6,844.5 239.9,843.9 240.3,843.2 240.6,842.6 241,842 241.3,841.5 241.7,840.9 242,840.4 242.4,839.9 242.7,839.3 243.1,838.8 243.5,838.4 243.9,838 244.3,837.6 244.7,837.3 245.2,837.1 245.7,836.9 246.4,836.8 247.2,836.9 248,837.1 248.9,837.3 249.8,837.7 250.7,838.1 251.7,838.6 252.6,839.2 253.5,839.8 254.5,840.3 255.4,840.9 256.2,841.5 257.1,842.2 258,843 258.9,844 259.7,845 260.6,846 261.4,847.1 262.3,848.1 263.1,849.1 264,850 264.8,850.8 265.8,851.5 266.7,852 267.5,852.3 268.4,852.7 269.3,852.9 270.1,853.1 271.1,853.3 272,853.4 272.9,853.5 273.8,853.5 274.7,853.4 275.5,853.2 276.4,852.9 277.2,852.6 278.3,851.9 279.4,851.1 280.4,850 281.4,848.8 282.4,847.4 283.3,845.9 284.3,844.3 285.2,842.7 286.2,841 287.1,839.4 288,837.8 289,836.2 290.1,834.4 291.2,832.5 292.3,830.6 293.4,828.6 294.4,826.6 295.5,824.6 296.6,822.6 297.6,820.5 298.7,818.5 299.8,816.5 300.9,814.5 302,812.6 303.1,810.8 304.1,808.9 305.2,807.1 306.2,805.2 307.3,803.3 308.3,801.5 309.4,799.7 310.5,798 311.6,796.3 312.8,794.7 314,793.1 315.2,791.7 316.3,790.5 317.5,789.2 318.6,787.9 319.8,786.7 321.1,785.5 322.3,784.3 323.5,783.3 324.8,782.4 326,781.6 327.2,781 328.4,780.6 329.6,780.5 330.6,780.6 331.6,780.8 332.6,781.3 333.6,781.8 334.6,782.5 335.6,783.3 336.6,784.2 337.6,785.1 338.5,786.1 339.5,787.1 340.4,788.1 341.4,789.1 342.7,790.5 343.9,791.9 345.1,793.5 346.4,795.2 347.6,796.9 348.8,798.7 350,800.6 351.2,802.5 352.3,804.4 353.5,806.3 354.7,808.2 355.8,810 357,811.9 358.1,813.8 359.2,815.8 360.3,817.7 361.4,819.7 362.4,821.7 363.5,823.7 364.6,825.7 365.6,827.7 366.7,829.7 367.8,831.7 368.9,833.6 370,835.5 371,837.4 372.1,839.3 373.2,841.3 374.3,843.2 375.3,845.1 376.4,847 377.5,848.9 378.6,850.7 379.7,852.5 380.8,854.2 382,855.9 383,857.3 384.1,858.8 385.1,860.1 386.2,861.5 387.2,862.8 388.3,864.1 389.4,865.4 390.5,866.6 391.6,867.9 392.8,869.1 393.9,870.4 395.1,871.6 396.3,872.9 397.6,874.2 398.8,875.5 400.1,876.7 401.4,878 402.7,879.3 404,880.5 405.4,881.7 406.7,882.9 408.1,884 409.4,885 410.8,886 412.1,886.8 413.3,887.6 414.6,888.4 415.8,889.1 417.1,889.7 418.4,890.4 419.7,891 421,891.6 422.4,892.2 423.7,892.7 425.1,893.3 426.5,893.9 428,894.5 429.6,895.1 431.2,895.7 432.8,896.2 434.4,896.8 436.1,897.3 437.7,897.8 439.4,898.3 441.1,898.9 442.8,899.4 444.5,899.9 446.2,900.4 448.1,901 450,901.5 452,902 454,902.6 456,903.1 458.1,903.6 460.1,904.1 462.1,904.7 464.1,905.2 466.1,905.8 468.1,906.4 470,907 471.8,907.6 473.6,908.2 475.3,908.9 477,909.6 478.7,910.3 480.4,911 482.1,911.7 483.8,912.3 485.5,913 487.3,913.7 489.2,914.4 491.1,915 493.5,915.7 495.9,916.5 498.4,917.2 501,917.9 503.6,918.6 506.2,919.3 508.9,920 511.6,920.7 514.3,921.3 516.9,922 519.6,922.7 522.2,923.3 524.8,923.9 527.4,924.5 530,925.1 532.6,925.7 535.2,926.2 537.8,926.8 540.4,927.3 543,927.9 545.6,928.5 548.2,929.1 550.8,929.8 553.4,930.5 556,931.3 558.6,932.1 561.2,932.9 563.8,933.7 566.4,934.6 569,935.5 571.6,936.4 574.2,937.3 576.7,938.2 579.3,939.1 581.9,940 584.5,940.9 587.1,941.8 589.8,942.7 592.4,943.5 595.1,944.4 597.8,945.3 600.4,946.2 603.1,947.1 605.7,948 608.3,948.8 610.8,949.7 613.2,950.5 615.6,951.3 617.5,952 619.3,952.6 621.1,953.3 622.8,954 624.5,954.7 626.2,955.4 627.8,956 629.5,956.6 631.2,957.2 632.9,957.7 634.6,958.1 636.3,958.5 638,958.8 639.7,959.1 641.5,959.3 643.2,959.5 644.9,959.6 646.7,959.7 648.4,959.7 650.2,959.8 651.9,959.8 653.6,959.7 655.4,959.7 657.1,959.6 658.8,959.5 660.5,959.4 662.2,959.2 663.9,959.1 665.6,958.9 667.2,958.6 668.9,958.4 670.6,958.1 672.4,957.7 674.1,957.4 675.9,957 677.8,956.5 680.2,955.9 682.7,955.1 685.2,954.3 687.8,953.5 690.4,952.6 693.1,951.6 695.8,950.6 698.5,949.6 701.1,948.5 703.8,947.4 706.4,946.2 709,945.1 711.6,943.9 714.2,942.6 716.9,941.3 719.5,940 722,938.6 724.6,937.2 727.2,935.7 729.8,934.3 732.4,932.8 734.9,931.4 737.5,929.9 740.1,928.5 742.7,927.1 745.3,925.6 747.9,924.1 750.5,922.6 753.1,921.1 755.6,919.6 758.2,918.1 760.8,916.6 763.4,915.1 766,913.6 768.6,912.2 771.2,910.8 773.8,909.4 776.3,908 778.8,906.6 781.4,905.3 783.9,903.9 786.4,902.5 789,901.2 791.6,899.9 794.2,898.7 796.9,897.5 799.6,896.4 802.3,895.3 805.3,894.2 808.4,893.3 811.6,892.3 814.9,891.4 818.2,890.6 821.6,889.8 824.8,889.1 828.1,888.4 831.3,887.7 834.3,887.1 837.2,886.5 840,885.9 841.9,885.5 843.7,885.1 845.3,884.8 847,884.4 848.6,884.1 850.1,883.8 851.7,883.6 853.3,883.3 854.9,883.1 856.6,882.9 858.4,882.7 860.3,882.5 863.1,882.3 866,882.2 869,882.1 872.1,882 875.4,882 878.6,882 882,882 885.3,882.1 888.7,882.2 892,882.3 895.3,882.4 898.5,882.5 901.7,882.6 904.9,882.8 908.1,883 911.3,883.2 914.5,883.5 917.7,883.7 920.8,884 924,884.2 927.2,884.5 930.4,884.7 933.6,885 936.8,885.2 940,885.4 943.2,885.6 946.4,885.8 949.5,886.1 952.7,886.3 955.9,886.5 959.1,886.7 962.3,886.8 965.4,887 968.6,887.2 971.8,887.3 975,887.4 978.2,887.5 981.4,887.5 984.5,887.6 987.7,887.6 990.9,887.6 994.1,887.6 997.3,887.6 1000.5,887.6 1003.6,887.5 1006.8,887.5 1010,887.4 1013.2,887.4 1016.4,887.4 1019.6,887.3 1022.8,887.3 1025.9,887.2 1029.1,887.2 1032.3,887.1 1035.5,887 1038.7,886.9 1041.9,886.8 1045,886.7 1048.2,886.5 1051.4,886.3 1054.6,886.1 1057.8,885.8 1061.1,885.5 1064.3,885.1 1067.5,884.7 1070.8,884.4 1074,884 1077.2,883.6 1080.4,883.3 1083.5,883 1086.6,882.7 1089.6,882.5 1092.2,882.3 1094.8,882.2 1097.4,882.1 1099.8,882 1102.3,881.9 1104.8,881.8 1107.2,881.8 1109.7,881.8 1112.2,881.8 1114.8,881.8 1117.3,881.8 1120,881.9 1123.1,882 1126.2,882.2 1129.4,882.3 1132.6,882.5 1135.9,882.8 1139.2,883 1142.5,883.3 1145.8,883.6 1149.1,883.9 1152.4,884.3 1155.7,884.6 1158.9,885 1162.1,885.4 1165.4,885.8 1168.6,886.2 1171.9,886.7 1175.1,887.1 1178.3,887.6 1181.6,888.1 1184.8,888.6 1188,889.1 1191.2,889.7 1194.5,890.2 1197.7,890.8 1200.9,891.4 1204.2,892 1207.4,892.6 1210.7,893.3 1213.9,893.9 1217.2,894.6 1220.4,895.3 1223.6,895.9 1226.9,896.6 1230.1,897.3 1233.4,897.9 1236.6,898.6 1239.8,899.3 1243.1,899.9 1246.3,900.6 1249.6,901.3 1252.8,901.9 1256,902.6 1259.3,903.3 1262.5,903.9 1265.8,904.6 1269,905.2 1272.3,905.8 1275.5,906.4 1278.7,907 1282,907.5 1285.2,908.1 1288.4,908.6 1291.6,909.1 1294.9,909.6 1298.1,910.1 1301.3,910.6 1304.6,911 1307.8,911.4 1311.1,911.8 1314.3,912.2 1317.5,912.5 1320.8,912.9 1324,913.2 1327.2,913.4 1330.5,913.7 1333.7,913.9 1337,914.1 1340.2,914.3 1343.5,914.5 1346.7,914.6 1350,914.8 1353.2,914.9 1356.4,915 1359.7,915.1 1362.9,915.1 1366.2,915.1 1369.4,915.1 1372.7,915.1 1375.9,915.1 1379.1,915.1 1382.4,915 1385.6,915 1388.9,914.9 1392.1,914.9 1395.3,914.9 1398.6,914.8 1401.8,914.8 1405,914.8 1408.3,914.7 1411.5,914.7 1414.7,914.6 1418,914.5 1421.2,914.5 1424.4,914.4 1427.7,914.2 1430.9,914.1 1434.1,913.9 1437.4,913.8 1440.6,913.6 1443.9,913.4 1447.1,913.1 1450.4,912.9 1453.6,912.6 1456.8,912.4 1460.1,912.1 1463.3,911.9 1466.6,911.6 1469.8,911.4 1473,911.2 1476.3,910.9 1479.5,910.7 1482.7,910.4 1486,910.2 1489.2,909.9 1492.4,909.7 1495.7,909.4 1498.9,909.1 1502.1,908.9 1505.4,908.6 1508.6,908.3 1511.8,908 1515.1,907.7 1518.3,907.4 1521.6,907 1524.8,906.7 1528,906.3 1531.3,906 1534.5,905.7 1537.8,905.3 1541,905 1544.3,904.7 1547.5,904.4 1550.7,904.1 1554,903.8 1557.2,903.5 1560.5,903.3 1563.7,903 1566.9,902.7 1570.2,902.5 1573.4,902.2 1576.7,902 1579.9,901.7 1583.2,901.5 1586.4,901.3 1589.6,901.1 1592.9,900.9 1596.1,900.7 1599.3,900.5 1602.6,900.4 1605.8,900.2 1609,900.1 1612.3,899.9 1615.5,899.8 1618.7,899.6 1622,899.5 1625.2,899.4 1628.4,899.3 1631.7,899.2 1634.9,899.1 1638.2,899 1641.4,898.9 1644.6,898.9 1647.9,898.8 1651.1,898.8 1654.4,898.7 1657.6,898.7 1660.9,898.6 1664.1,898.6 1667.3,898.6 1670.6,898.6 1673.8,898.5 1677.1,898.5 1680.3,898.5 1683.6,898.6 1686.8,898.6 1690,898.6 1693.3,898.6 1696.5,898.6 1699.8,898.6 1703,898.6 1706.2,898.6 1709.5,898.6 1712.7,898.7 1715.9,898.7 1719.2,898.7 1722.4,898.8 1725.6,898.8 1728.9,898.8 1732.1,898.8 1735.3,898.8 1738.6,898.7 1741.8,898.6 1745.1,898.5 1748.4,898.3 1751.7,898.1 1755.1,897.9 1758.4,897.6 1761.8,897.3 1765.1,897.1 1768.3,896.8 1771.5,896.5 1774.7,896.3 1777.7,896.1 1780.7,895.9 1783,895.8 1785.3,895.6 1787.5,895.5 1789.7,895.4 1791.8,895.3 1793.9,895.2 1796,895.2 1798,895.1 1800.1,895 1802.2,894.9 1804.3,894.8 1806.4,894.7" fill="none" stroke="#000" stroke-width="9.6" stroke-linejoin="round" stroke-linecap="round"/>
<g fill="none" stroke="#e8000b" stroke-width="3"><circle cx="180.1" cy="1374" r="9.0"/><circle cx="180.5" cy="1374" r="9.0"/><circle cx="181.5" cy="1370.6" r="9.0"/><circle cx="183.2" cy="1364.7" r="9.0"/><circle cx="185.5" cy="1356.2" r="9.0"/><circle cx="188.6" cy="1344.1" r="9.0"/><circle cx="192.3" cy="1323.4" r="9.0"/><circle cx="196.7" cy="1292.8" r="9.0"/><circle cx="201.7" cy="1253.3" r="9.0"/><circle cx="207.4" cy="1208.3" r="9.0"/><circle cx="213.8" cy="1154.3" r="9.0"/><circle cx="220.9" cy="1103.4" r="9.0"/><circle cx="228.7" cy="1057.6" r="9.0"/><circle cx="237.1" cy="1022.1" r="9.0"/><circle cx="246.2" cy="1003.6" r="9.0"/><circle cx="255.9" cy="1008.8" r="9.0"/><circle cx="266.4" cy="1030.2" r="9.0"/><circle cx="277.5" cy="1021.8" r="9.0"/><circle cx="289.3" cy="1008.2" r="9.0"/><circle cx="301.8" cy="985.4" r="9.0"/><circle cx="314.9" cy="964.3" r="9.0"/><circle cx="328.7" cy="948.7" r="9.0"/><circle cx="343.2" cy="964.9" r="9.0"/><circle cx="358.4" cy="989.8" r="9.0"/><circle cx="374.2" cy="1019.7" r="9.0"/><circle cx="390.7" cy="1042.8" r="9.0"/><circle cx="407.9" cy="1059" r="9.0"/><circle cx="425.7" cy="1068.6" r="9.0"/><circle cx="444.3" cy="1074.9" r="9.0"/><circle cx="463.5" cy="1079.3" r="9.0"/><circle cx="483.3" cy="1084" r="9.0"/><circle cx="503.9" cy="1090.4" r="9.0"/><circle cx="525.1" cy="1097.2" r="9.0"/><circle cx="547" cy="1101.4" r="9.0"/><circle cx="569.6" cy="1106.6" r="9.0"/><circle cx="592.8" cy="1114.1" r="9.0"/><circle cx="616.8" cy="1123.9" r="9.0"/><circle cx="641.3" cy="1131.4" r="9.0"/><circle cx="666.6" cy="1131.3" r="9.0"/><circle cx="692.6" cy="1125.6" r="9.0"/><circle cx="719.2" cy="1114.3" r="9.0"/><circle cx="746.5" cy="1099.6" r="9.0"/><circle cx="774.4" cy="1086.7" r="9.0"/><circle cx="803.1" cy="1073.4" r="9.0"/><circle cx="832.4" cy="1062.5" r="9.0"/><circle cx="862.3" cy="1056.1" r="9.0"/><circle cx="893" cy="1056.1" r="9.0"/><circle cx="924.3" cy="1058.3" r="9.0"/><circle cx="956.3" cy="1061" r="9.0"/><circle cx="989" cy="1062.4" r="9.0"/><circle cx="1022.4" cy="1061.6" r="9.0"/><circle cx="1056.4" cy="1059.1" r="9.0"/><circle cx="1091.1" cy="1057.4" r="9.0"/><circle cx="1126.5" cy="1056.8" r="9.0"/><circle cx="1162.5" cy="1060.3" r="9.0"/><circle cx="1199.2" cy="1066" r="9.0"/><circle cx="1236.6" cy="1073.5" r="9.0"/><circle cx="1274.7" cy="1081.1" r="9.0"/><circle cx="1313.4" cy="1086.2" r="9.0"/><circle cx="1352.9" cy="1089.8" r="9.0"/><circle cx="1392.9" cy="1089.8" r="9.0"/><circle cx="1433.7" cy="1088.8" r="9.0"/><circle cx="1475.2" cy="1085.4" r="9.0"/><circle cx="1517.3" cy="1081.2" r="9.0"/><circle cx="1560" cy="1077.2" r="9.0"/><circle cx="1603.5" cy="1073.1" r="9.0"/><circle cx="1647.6" cy="1070.3" r="9.0"/><circle cx="1692.4" cy="1068.7" r="9.0"/><circle cx="1737.9" cy="1067" r="9.0"/><circle cx="1784.1" cy="1065.6" r="9.0"/></g>
<path d="M180.5,1374 180.8,1372.8 181.2,1371.7 181.5,1370.5 181.8,1369.4 182.2,1368.2 182.5,1367.1 182.8,1365.9 183.2,1364.7 183.5,1363.6 183.8,1362.4 184.2,1361.2 184.5,1360 184.8,1358.7 185.2,1357.4 185.6,1356.1 185.9,1354.8 186.3,1353.5 186.6,1352.2 187,1350.9 187.3,1349.5 187.6,1348.2 188,1346.8 188.3,1345.4 188.6,1344 188.9,1342.4 189.3,1340.7 189.6,1339.1 189.9,1337.4 190.2,1335.7 190.5,1334 190.8,1332.3 191.1,1330.5 191.4,1328.8 191.7,1326.9 192,1325.1 192.3,1323.2 192.7,1320.9 193,1318.5 193.4,1316 193.8,1313.6 194.1,1311 194.5,1308.5 194.9,1305.9 195.2,1303.2 195.6,1300.6 196,1297.9 196.3,1295.2 196.7,1292.5 197.1,1289.4 197.5,1286.3 197.9,1283.1 198.4,1279.9 198.8,1276.6 199.2,1273.4 199.6,1270.1 200,1266.7 200.4,1263.4 200.8,1260 201.3,1256.7 201.7,1253.3 202.2,1249.7 202.6,1246.1 203.1,1242.4 203.6,1238.8 204,1235.1 204.5,1231.4 205,1227.7 205.5,1223.9 206,1220.1 206.4,1216.3 206.9,1212.5 207.4,1208.6 207.9,1204.3 208.4,1199.9 209,1195.4 209.5,1190.9 210,1186.4 210.5,1181.8 211.1,1177.2 211.6,1172.7 212.1,1168.1 212.7,1163.6 213.2,1159.1 213.8,1154.6 214.4,1150.3 214.9,1146 215.5,1141.7 216.1,1137.4 216.6,1133.1 217.2,1128.8 217.8,1124.5 218.4,1120.3 219,1116 219.6,1111.8 220.3,1107.7 220.9,1103.5 221.5,1099.5 222.2,1095.5 222.8,1091.4 223.5,1087.3 224.2,1083.2 224.8,1079.1 225.5,1075.2 226.2,1071.3 226.8,1067.6 227.5,1064 228.1,1060.6 228.7,1057.4 229.1,1055.4 229.5,1053.5 229.8,1051.6 230.2,1049.9 230.5,1048.1 230.9,1046.5 231.2,1044.8 231.6,1043.3 231.9,1041.7 232.3,1040.1 232.6,1038.6 233,1037 233.3,1035.6 233.6,1034.3 234,1033 234.3,1031.6 234.6,1030.3 235,1029 235.3,1027.8 235.6,1026.5 236,1025.3 236.3,1024.2 236.7,1023.1 237.1,1022 237.4,1021.2 237.7,1020.5 238,1019.7 238.3,1019 238.6,1018.4 238.9,1017.7 239.2,1017 239.6,1016.4 239.9,1015.8 240.3,1015.2 240.6,1014.6 241,1014 241.3,1013.5 241.7,1012.9 242,1012.3 242.4,1011.8 242.7,1011.2 243.1,1010.7 243.5,1010.2 243.9,1009.7 244.3,1009.3 244.7,1009 245.2,1008.8 245.7,1008.6 246.4,1008.6 247.2,1008.7 248,1008.9 248.9,1009.3 249.8,1009.8 250.7,1010.3 251.6,1010.9 252.6,1011.5 253.5,1012.2 254.5,1012.8 255.3,1013.4 256.2,1014 257.1,1014.6 257.9,1015.3 258.7,1016 259.6,1016.7 260.4,1017.4 261.2,1018.2 262,1018.9 262.8,1019.7 263.6,1020.3 264.4,1021 265.2,1021.5 266,1022 266.6,1022.3 267.2,1022.7 267.8,1023 268.4,1023.3 268.9,1023.6 269.5,1023.9 270.1,1024.1 270.7,1024.3 271.3,1024.4 271.9,1024.4 272.5,1024.4 273.2,1024.3 274.4,1023.9 275.6,1023.2 276.9,1022.2 278.3,1021.1 279.7,1019.8 281.1,1018.3 282.5,1016.8 283.9,1015.2 285.2,1013.5 286.5,1011.8 287.8,1010.2 289,1008.6 290.2,1006.9 291.4,1005 292.6,1003.1 293.6,1001.2 294.7,999.1 295.7,997.1 296.8,995 297.8,993 298.8,990.9 299.8,988.9 300.9,986.9 302,985 303.1,983.2 304.1,981.3 305.2,979.4 306.2,977.5 307.2,975.7 308.3,973.8 309.4,972 310.5,970.2 311.6,968.5 312.8,966.9 314,965.4 315.2,964 316.3,962.8 317.4,961.6 318.6,960.4 319.8,959.2 321.1,958.1 322.3,957 323.6,956.1 324.8,955.2 326,954.5 327.3,954 328.4,953.7 329.6,953.6 330.6,953.7 331.7,954 332.7,954.5 333.7,955.1 334.7,955.8 335.6,956.7 336.6,957.6 337.6,958.6 338.5,959.6 339.5,960.7 340.5,961.8 341.4,962.8 342.7,964.2 343.9,965.8 345.1,967.5 346.4,969.3 347.6,971.1 348.8,973 350,975 351.2,977 352.4,979 353.5,981 354.7,983 355.8,985 357,987.1 358.1,989.3 359.2,991.5 360.3,993.7 361.3,995.9 362.4,998.2 363.4,1000.5 364.5,1002.7 365.6,1004.9 366.7,1007.1 367.8,1009.2 368.9,1011.2 369.9,1013 371,1014.7 372.1,1016.4 373.1,1018.1 374.2,1019.8 375.3,1021.4 376.4,1023 377.5,1024.6 378.6,1026.2 379.8,1027.8 380.9,1029.3 382,1030.9 383.1,1032.4 384.1,1033.9 385.2,1035.4 386.2,1036.8 387.3,1038.3 388.3,1039.7 389.4,1041.2 390.5,1042.6 391.6,1043.9 392.7,1045.3 393.9,1046.6 395.1,1047.9 396.3,1049.1 397.5,1050.3 398.8,1051.5 400.1,1052.7 401.4,1053.8 402.7,1055 404,1056.1 405.4,1057.1 406.7,1058.1 408.1,1059.1 409.4,1060.1 410.8,1061 412.1,1061.8 413.3,1062.6 414.6,1063.3 415.9,1064 417.1,1064.7 418.4,1065.3 419.7,1065.9 421.1,1066.6 422.4,1067.1 423.7,1067.7 425.1,1068.3 426.5,1068.9 428,1069.5 429.6,1070.1 431.2,1070.7 432.8,1071.3 434.4,1071.8 436,1072.4 437.7,1072.9 439.4,1073.4 441.1,1073.9 442.8,1074.4 444.5,1074.9 446.2,1075.4 448.1,1075.9 450,1076.4 452,1076.8 454,1077.3 456,1077.7 458,1078.1 460.1,1078.6 462.1,1079 464.1,1079.4 466.1,1079.8 468.1,1080.2 470,1080.7 471.8,1081.1 473.6,1081.5 475.3,1082 477,1082.4 478.7,1082.8 480.4,1083.2 482.1,1083.6 483.8,1084.1 485.6,1084.5 487.4,1085 489.2,1085.6 491.1,1086.1 493.5,1086.8 495.9,1087.6 498.5,1088.5 501,1089.4 503.6,1090.3 506.3,1091.3 508.9,1092.2 511.6,1093.2 514.2,1094.1 516.9,1095 519.6,1095.8 522.2,1096.5 524.8,1097.2 527.4,1097.7 530,1098.3 532.6,1098.8 535.2,1099.3 537.8,1099.7 540.4,1100.2 543,1100.6 545.6,1101.1 548.2,1101.6 550.8,1102.1 553.4,1102.7 556,1103.3 558.6,1103.9 561.2,1104.5 563.8,1105.2 566.4,1105.8 569,1106.5 571.6,1107.2 574.2,1107.9 576.8,1108.6 579.4,1109.4 581.9,1110.2 584.5,1111 587.1,1111.9 589.8,1112.9 592.5,1113.9 595.1,1115 597.8,1116.1 600.5,1117.2 603.1,1118.4 605.7,1119.5 608.3,1120.6 610.8,1121.6 613.2,1122.6 615.6,1123.5 617.5,1124.2 619.3,1124.9 621,1125.6 622.8,1126.3 624.5,1127 626.2,1127.6 627.8,1128.3 629.5,1128.9 631.2,1129.4 632.9,1129.9 634.6,1130.3 636.3,1130.7 638,1131 639.7,1131.3 641.5,1131.5 643.2,1131.6 644.9,1131.7 646.7,1131.8 648.4,1131.9 650.2,1131.9 651.9,1131.9 653.6,1131.9 655.4,1131.8 657.1,1131.8 658.8,1131.8 660.5,1131.7 662.2,1131.6 663.9,1131.5 665.5,1131.4 667.2,1131.3 668.9,1131.1 670.6,1130.9 672.4,1130.7 674.1,1130.4 675.9,1130.1 677.8,1129.7 680.2,1129.2 682.7,1128.5 685.2,1127.8 687.8,1127.1 690.4,1126.3 693.1,1125.4 695.8,1124.5 698.5,1123.5 701.1,1122.5 703.8,1121.5 706.4,1120.4 709,1119.3 711.6,1118.1 714.2,1116.9 716.9,1115.5 719.4,1114.1 722,1112.7 724.6,1111.3 727.2,1109.8 729.7,1108.3 732.3,1106.9 734.9,1105.4 737.5,1104 740.1,1102.7 742.7,1101.4 745.3,1100.2 747.8,1098.9 750.4,1097.7 753,1096.5 755.6,1095.3 758.2,1094.1 760.8,1093 763.4,1091.8 766,1090.6 768.6,1089.4 771.2,1088.2 773.8,1087 776.3,1085.8 778.9,1084.5 781.4,1083.3 784,1082.1 786.5,1080.8 789.1,1079.6 791.7,1078.4 794.3,1077.2 796.9,1076 799.6,1074.8 802.3,1073.7 805.3,1072.5 808.5,1071.2 811.7,1069.9 815,1068.7 818.3,1067.4 821.6,1066.2 824.9,1065 828.1,1063.9 831.2,1062.9 834.3,1061.9 837.2,1061 840,1060.2 841.9,1059.7 843.6,1059.2 845.3,1058.8 846.9,1058.4 848.5,1058.1 850.1,1057.7 851.7,1057.4 853.3,1057.2 854.9,1056.9 856.6,1056.7 858.4,1056.5 860.3,1056.3 863.1,1056.1 866,1055.9 869,1055.8 872.1,1055.7 875.4,1055.7 878.6,1055.7 882,1055.8 885.3,1055.8 888.7,1055.9 892,1056.1 895.3,1056.2 898.5,1056.3 901.7,1056.5 904.9,1056.6 908.1,1056.9 911.3,1057.1 914.5,1057.4 917.7,1057.7 920.8,1058 924,1058.3 927.2,1058.6 930.4,1058.9 933.6,1059.1 936.8,1059.4 940,1059.6 943.2,1059.9 946.4,1060.2 949.5,1060.4 952.7,1060.7 955.9,1060.9 959.1,1061.2 962.3,1061.4 965.4,1061.6 968.6,1061.8 971.8,1062 975,1062.1 978.2,1062.2 981.4,1062.3 984.5,1062.4 987.7,1062.4 990.9,1062.4 994.1,1062.4 997.3,1062.4 1000.5,1062.4 1003.7,1062.4 1006.8,1062.3 1010,1062.2 1013.2,1062.1 1016.4,1062 1019.6,1061.8 1022.8,1061.6 1025.9,1061.4 1029.1,1061.1 1032.3,1060.9 1035.5,1060.6 1038.7,1060.3 1041.8,1060.1 1045,1059.8 1048.2,1059.6 1051.4,1059.4 1054.6,1059.2 1057.8,1059 1061.1,1058.8 1064.3,1058.7 1067.5,1058.5 1070.8,1058.3 1074,1058.2 1077.2,1058 1080.4,1057.9 1083.5,1057.8 1086.6,1057.6 1089.6,1057.5 1092.2,1057.4 1094.8,1057.3 1097.4,1057.1 1099.9,1057 1102.3,1056.8 1104.8,1056.7 1107.2,1056.6 1109.7,1056.5 1112.2,1056.5 1114.8,1056.4 1117.3,1056.4 1120,1056.5 1123.1,1056.6 1126.2,1056.8 1129.4,1057 1132.6,1057.2 1135.9,1057.5 1139.2,1057.8 1142.5,1058.1 1145.8,1058.4 1149.1,1058.8 1152.4,1059.1 1155.6,1059.5 1158.9,1059.9 1162.1,1060.3 1165.4,1060.7 1168.6,1061.1 1171.9,1061.6 1175.1,1062 1178.3,1062.5 1181.6,1063 1184.8,1063.5 1188,1064.1 1191.2,1064.6 1194.5,1065.1 1197.7,1065.7 1200.9,1066.3 1204.2,1066.9 1207.4,1067.5 1210.7,1068.2 1213.9,1068.8 1217.2,1069.5 1220.4,1070.2 1223.6,1070.8 1226.9,1071.5 1230.1,1072.2 1233.4,1072.8 1236.6,1073.5 1239.8,1074.2 1243.1,1074.8 1246.3,1075.5 1249.6,1076.2 1252.8,1076.8 1256,1077.5 1259.3,1078.2 1262.5,1078.8 1265.8,1079.5 1269,1080.1 1272.3,1080.6 1275.5,1081.2 1278.7,1081.7 1282,1082.2 1285.2,1082.7 1288.4,1083.1 1291.6,1083.6 1294.9,1084 1298.1,1084.4 1301.4,1084.8 1304.6,1085.2 1307.8,1085.6 1311.1,1085.9 1314.3,1086.3 1317.5,1086.7 1320.8,1087 1324,1087.4 1327.3,1087.7 1330.5,1088 1333.7,1088.4 1337,1088.7 1340.2,1089 1343.5,1089.2 1346.7,1089.4 1350,1089.6 1353.2,1089.8 1356.4,1089.9 1359.7,1090 1362.9,1090.1 1366.2,1090.1 1369.4,1090.1 1372.6,1090.1 1375.9,1090 1379.1,1090 1382.4,1089.9 1385.6,1089.9 1388.9,1089.8 1392.1,1089.8 1395.3,1089.8 1398.6,1089.7 1401.8,1089.7 1405,1089.7 1408.3,1089.6 1411.5,1089.6 1414.7,1089.5 1418,1089.5 1421.2,1089.4 1424.4,1089.3 1427.7,1089.1 1430.9,1089 1434.1,1088.8 1437.4,1088.6 1440.6,1088.4 1443.9,1088.2 1447.1,1087.9 1450.4,1087.6 1453.6,1087.4 1456.8,1087.1 1460.1,1086.8 1463.3,1086.5 1466.6,1086.2 1469.8,1085.9 1473,1085.6 1476.3,1085.3 1479.5,1085 1482.7,1084.6 1486,1084.3 1489.2,1084 1492.4,1083.6 1495.7,1083.3 1498.9,1083 1502.1,1082.6 1505.4,1082.3 1508.6,1082 1511.8,1081.7 1515.1,1081.4 1518.3,1081.1 1521.6,1080.8 1524.8,1080.5 1528,1080.2 1531.3,1080 1534.5,1079.7 1537.8,1079.4 1541,1079.1 1544.3,1078.8 1547.5,1078.5 1550.7,1078.2 1554,1077.9 1557.2,1077.5 1560.5,1077.2 1563.7,1076.9 1567,1076.5 1570.2,1076.2 1573.4,1075.9 1576.7,1075.5 1579.9,1075.2 1583.2,1074.9 1586.4,1074.6 1589.6,1074.3 1592.9,1074 1596.1,1073.7 1599.3,1073.5 1602.6,1073.2 1605.8,1072.9 1609,1072.7 1612.3,1072.4 1615.5,1072.2 1618.7,1071.9 1622,1071.7 1625.2,1071.5 1628.4,1071.3 1631.7,1071.1 1634.9,1070.9 1638.2,1070.8 1641.4,1070.6 1644.6,1070.4 1647.9,1070.3 1651.1,1070.1 1654.4,1070 1657.6,1069.9 1660.9,1069.7 1664.1,1069.6 1667.3,1069.5 1670.6,1069.4 1673.8,1069.3 1677.1,1069.2 1680.3,1069.1 1683.6,1069 1686.8,1068.9 1690,1068.8 1693.3,1068.7 1696.5,1068.6 1699.8,1068.5 1703,1068.4 1706.2,1068.3 1709.5,1068.2 1712.7,1068 1715.9,1067.9 1719.2,1067.8 1722.4,1067.7 1725.6,1067.5 1728.9,1067.4 1732.1,1067.3 1735.3,1067.1 1738.6,1067 1741.8,1066.9 1745.1,1066.8 1748.4,1066.7 1751.7,1066.6 1755.1,1066.5 1758.4,1066.4 1761.7,1066.3 1765.1,1066.2 1768.3,1066.1 1771.5,1066 1774.7,1065.9 1777.7,1065.8 1780.7,1065.7 1783,1065.6 1785.3,1065.6 1787.5,1065.5 1789.7,1065.4 1791.8,1065.4 1793.9,1065.3 1796,1065.2 1798,1065.2 1800.1,1065.1 1802.2,1065 1804.3,1065 1806.4,1064.9" fill="none" stroke="#000" stroke-width="9.6" stroke-linejoin="round" stroke-linecap="round"/>
<g fill="none" stroke="#e8000b" stroke-width="3"><circle cx="180.1" cy="1553.1" r="9.0"/><circle cx="180.5" cy="1552.5" r="9.0"/><circle cx="181.5" cy="1550.3" r="9.0"/><circle cx="183.2" cy="1546.6" r="9.0"/><circle cx="185.5" cy="1542.4" r="9.0"/><circle cx="188.6" cy="1538.1" r="9.0"/><circle cx="192.3" cy="1525.4" r="9.0"/><circle cx="196.7" cy="1494" r="9.0"/><circle cx="201.7" cy="1453.9" r="9.0"/><circle cx="207.4" cy="1400.1" r="9.0"/><circle cx="213.8" cy="1344.3" r="9.0"/><circle cx="220.9" cy="1292.9" r="9.0"/><circle cx="228.7" cy="1240.1" r="9.0"/><circle cx="237.1" cy="1204.1" r="9.0"/><circle cx="246.2" cy="1186" r="9.0"/><circle cx="255.9" cy="1192.3" r="9.0"/><circle cx="266.4" cy="1217.5" r="9.0"/><circle cx="277.5" cy="1211.1" r="9.0"/><circle cx="289.3" cy="1195.7" r="9.0"/><circle cx="301.8" cy="1173" r="9.0"/><circle cx="314.9" cy="1150.8" r="9.0"/><circle cx="328.7" cy="1135" r="9.0"/><circle cx="343.2" cy="1152.5" r="9.0"/><circle cx="358.4" cy="1174.2" r="9.0"/><circle cx="374.2" cy="1202.8" r="9.0"/><circle cx="390.7" cy="1223.7" r="9.0"/><circle cx="407.9" cy="1238.6" r="9.0"/><circle cx="425.7" cy="1250.9" r="9.0"/><circle cx="444.3" cy="1256.1" r="9.0"/><circle cx="463.5" cy="1259.1" r="9.0"/><circle cx="483.3" cy="1265.1" r="9.0"/><circle cx="503.9" cy="1272.6" r="9.0"/><circle cx="525.1" cy="1279.4" r="9.0"/><circle cx="547" cy="1285.1" r="9.0"/><circle cx="569.6" cy="1291" r="9.0"/><circle cx="592.8" cy="1297.8" r="9.0"/><circle cx="616.8" cy="1305.7" r="9.0"/><circle cx="641.3" cy="1311.1" r="9.0"/><circle cx="666.6" cy="1308.6" r="9.0"/><circle cx="692.6" cy="1301.4" r="9.0"/><circle cx="719.2" cy="1291.6" r="9.0"/><circle cx="746.5" cy="1277" r="9.0"/><circle cx="774.4" cy="1261.3" r="9.0"/><circle cx="803.1" cy="1249.1" r="9.0"/><circle cx="832.4" cy="1240.7" r="9.0"/><circle cx="862.3" cy="1236.2" r="9.0"/><circle cx="893" cy="1237.8" r="9.0"/><circle cx="924.3" cy="1240.8" r="9.0"/><circle cx="956.3" cy="1243.2" r="9.0"/><circle cx="989" cy="1244.1" r="9.0"/><circle cx="1022.4" cy="1243.6" r="9.0"/><circle cx="1056.4" cy="1241.5" r="9.0"/><circle cx="1091.1" cy="1237.3" r="9.0"/><circle cx="1126.5" cy="1237.8" r="9.0"/><circle cx="1162.5" cy="1240.7" r="9.0"/><circle cx="1199.2" cy="1246.9" r="9.0"/><circle cx="1236.6" cy="1248" r="9.0"/><circle cx="1274.7" cy="1259.5" r="9.0"/><circle cx="1313.4" cy="1263.5" r="9.0"/><circle cx="1352.9" cy="1267.4" r="9.0"/><circle cx="1392.9" cy="1268.6" r="9.0"/><circle cx="1433.7" cy="1267.3" r="9.0"/><circle cx="1475.2" cy="1265.1" r="9.0"/><circle cx="1517.3" cy="1261.6" r="9.0"/><circle cx="1560" cy="1257.9" r="9.0"/><circle cx="1603.5" cy="1254.3" r="9.0"/><circle cx="1647.6" cy="1252.1" r="9.0"/><circle cx="1692.4" cy="1251.9" r="9.0"/><circle cx="1737.9" cy="1251.9" r="9.0"/><circle cx="1784.1" cy="1251.1" r="9.0"/></g>
<path d="M180.2,1553.1 180.6,1552.3 180.9,1551.6 181.3,1550.8 181.6,1550 182,1549.2 182.3,1548.4 182.7,1547.6 183,1546.9 183.4,1546.1 183.8,1545.4 184.1,1544.7 184.5,1544 184.8,1543.5 185.2,1542.9 185.5,1542.5 185.9,1542 186.2,1541.5 186.6,1541.1 187,1540.6 187.3,1540.2 187.6,1539.7 188,1539.1 188.3,1538.6 188.6,1538 189,1537.1 189.3,1536.3 189.7,1535.3 190,1534.4 190.3,1533.4 190.6,1532.4 190.9,1531.3 191.2,1530.2 191.5,1529 191.7,1527.8 192,1526.6 192.3,1525.3 192.7,1523.2 193.1,1520.9 193.5,1518.5 193.9,1515.9 194.2,1513.3 194.6,1510.6 194.9,1507.8 195.3,1505 195.6,1502.1 196,1499.3 196.3,1496.4 196.7,1493.6 197.1,1490.5 197.5,1487.3 197.9,1484.2 198.4,1481 198.8,1477.7 199.2,1474.5 199.6,1471.2 200,1467.8 200.5,1464.4 200.9,1461 201.3,1457.5 201.7,1454 202.2,1449.8 202.7,1445.6 203.1,1441.2 203.6,1436.8 204.1,1432.3 204.5,1427.8 205,1423.2 205.5,1418.6 205.9,1414.1 206.4,1409.5 206.9,1404.9 207.4,1400.4 207.9,1395.8 208.4,1391.1 208.9,1386.5 209.5,1381.8 210,1377.1 210.5,1372.4 211,1367.7 211.6,1363.1 212.1,1358.4 212.7,1353.8 213.2,1349.2 213.8,1344.6 214.4,1340.2 214.9,1335.9 215.5,1331.6 216.1,1327.3 216.7,1323 217.3,1318.7 217.9,1314.4 218.5,1310.2 219.1,1305.9 219.7,1301.6 220.3,1297.3 220.9,1293 221.5,1288.5 222.2,1283.9 222.8,1279.2 223.5,1274.4 224.2,1269.6 224.8,1264.9 225.5,1260.2 226.2,1255.7 226.8,1251.4 227.5,1247.3 228.1,1243.4 228.7,1239.9 229.1,1237.9 229.4,1236 229.8,1234.2 230.2,1232.5 230.5,1230.8 230.9,1229.2 231.2,1227.6 231.6,1226.1 231.9,1224.6 232.3,1223.1 232.6,1221.5 233,1220 233.3,1218.6 233.7,1217.2 234,1215.8 234.3,1214.4 234.6,1213 235,1211.6 235.3,1210.2 235.6,1208.9 236,1207.6 236.4,1206.4 236.7,1205.2 237.1,1204 237.4,1203.1 237.7,1202.3 238,1201.4 238.3,1200.6 238.6,1199.8 238.9,1199 239.2,1198.3 239.5,1197.6 239.9,1196.9 240.2,1196.2 240.6,1195.6 241,1195 241.3,1194.5 241.7,1194.1 242,1193.6 242.4,1193.2 242.7,1192.8 243.1,1192.4 243.5,1192 243.9,1191.7 244.3,1191.4 244.8,1191.2 245.2,1191.1 245.7,1191 246.4,1191 247.2,1191.2 248,1191.5 248.9,1192 249.8,1192.5 250.7,1193.1 251.6,1193.8 252.6,1194.5 253.5,1195.3 254.4,1196 255.3,1196.8 256.2,1197.5 257.2,1198.4 258.2,1199.5 259.2,1200.7 260.2,1202 261.1,1203.3 262.1,1204.6 263,1205.8 264,1207.1 265,1208.2 266,1209.2 267,1210 268,1210.6 268.7,1210.9 269.5,1211.2 270.3,1211.5 271.1,1211.7 271.8,1211.9 272.6,1212 273.4,1212 274.2,1212 274.9,1211.9 275.7,1211.8 276.5,1211.6 277.2,1211.3 278.2,1210.7 279.3,1209.9 280.3,1209 281.3,1207.8 282.3,1206.6 283.3,1205.2 284.2,1203.8 285.2,1202.3 286.1,1200.7 287.1,1199.2 288,1197.7 289,1196.2 290.1,1194.4 291.2,1192.6 292.3,1190.7 293.4,1188.8 294.5,1186.8 295.5,1184.7 296.6,1182.7 297.7,1180.6 298.7,1178.6 299.8,1176.6 300.9,1174.6 302,1172.6 303.1,1170.7 304.1,1168.7 305.2,1166.7 306.2,1164.7 307.2,1162.8 308.3,1160.8 309.4,1158.9 310.4,1157 311.6,1155.2 312.7,1153.5 313.9,1151.9 315.2,1150.4 316.3,1149.2 317.4,1148 318.6,1146.7 319.8,1145.5 321.1,1144.4 322.3,1143.3 323.6,1142.3 324.8,1141.5 326.1,1140.8 327.3,1140.3 328.5,1140 329.6,1139.9 330.6,1140.1 331.7,1140.5 332.7,1141 333.7,1141.8 334.6,1142.6 335.6,1143.6 336.6,1144.7 337.5,1145.8 338.5,1147 339.5,1148.1 340.4,1149.3 341.4,1150.4 342.6,1151.8 343.8,1153.2 345.1,1154.7 346.3,1156.3 347.5,1157.9 348.7,1159.6 349.9,1161.3 351.2,1163 352.3,1164.7 353.5,1166.5 354.7,1168.2 355.8,1170 357,1171.9 358.1,1173.8 359.2,1175.7 360.3,1177.7 361.4,1179.7 362.4,1181.7 363.5,1183.7 364.6,1185.7 365.6,1187.7 366.7,1189.7 367.8,1191.7 368.9,1193.6 370,1195.4 371,1197.3 372.1,1199.1 373.1,1200.9 374.2,1202.8 375.3,1204.6 376.4,1206.4 377.5,1208.1 378.6,1209.8 379.7,1211.5 380.8,1213.1 382,1214.6 383,1215.9 384.1,1217.1 385.1,1218.2 386.2,1219.3 387.3,1220.4 388.3,1221.5 389.4,1222.5 390.5,1223.6 391.7,1224.6 392.8,1225.6 393.9,1226.6 395.1,1227.7 396.3,1228.8 397.6,1229.9 398.9,1231.1 400.2,1232.2 401.5,1233.3 402.8,1234.4 404.1,1235.5 405.4,1236.6 406.8,1237.7 408.1,1238.8 409.5,1239.8 410.8,1240.8 412.1,1241.8 413.3,1242.7 414.6,1243.7 415.9,1244.7 417.1,1245.6 418.4,1246.5 419.7,1247.4 421,1248.3 422.3,1249.1 423.7,1249.9 425.1,1250.6 426.5,1251.3 428,1251.9 429.6,1252.5 431.1,1253 432.7,1253.5 434.4,1254 436,1254.4 437.7,1254.7 439.4,1255.1 441,1255.4 442.8,1255.8 444.5,1256.1 446.2,1256.5 448.1,1256.9 450,1257.2 452,1257.5 454,1257.8 456,1258 458.1,1258.3 460.1,1258.6 462.1,1258.9 464.1,1259.2 466.1,1259.5 468.1,1259.9 470,1260.4 471.8,1260.9 473.6,1261.5 475.3,1262 477,1262.6 478.7,1263.3 480.4,1264 482.1,1264.6 483.8,1265.3 485.6,1266 487.4,1266.7 489.2,1267.4 491.1,1268.1 493.5,1268.9 495.9,1269.8 498.4,1270.7 501,1271.6 503.6,1272.5 506.2,1273.4 508.9,1274.3 511.6,1275.1 514.3,1276 516.9,1276.9 519.6,1277.7 522.2,1278.5 524.8,1279.3 527.4,1280 530,1280.7 532.6,1281.4 535.2,1282.1 537.8,1282.8 540.4,1283.4 543,1284.1 545.6,1284.8 548.2,1285.4 550.8,1286.1 553.4,1286.8 556,1287.5 558.6,1288.2 561.2,1288.8 563.8,1289.5 566.4,1290.2 569,1290.8 571.6,1291.5 574.2,1292.2 576.7,1292.9 579.3,1293.6 581.9,1294.3 584.5,1295.1 587.1,1295.9 589.8,1296.8 592.4,1297.6 595.1,1298.5 597.8,1299.5 600.4,1300.4 603.1,1301.3 605.7,1302.2 608.3,1303.1 610.8,1303.9 613.2,1304.7 615.6,1305.4 617.5,1305.9 619.3,1306.5 621,1307 622.8,1307.5 624.5,1308 626.2,1308.5 627.8,1308.9 629.5,1309.4 631.2,1309.7 632.9,1310.1 634.6,1310.4 636.3,1310.6 638,1310.8 639.7,1311 641.5,1311.1 643.2,1311.2 645,1311.2 646.7,1311.2 648.4,1311.2 650.2,1311.2 651.9,1311.1 653.7,1311 655.4,1310.8 657.1,1310.6 658.8,1310.4 660.5,1310.1 662.2,1309.7 663.9,1309.3 665.5,1308.9 667.2,1308.5 668.9,1308 670.6,1307.5 672.3,1307 674.1,1306.4 675.9,1305.9 677.8,1305.4 680.2,1304.8 682.7,1304.1 685.2,1303.4 687.8,1302.7 690.4,1302 693.1,1301.3 695.8,1300.5 698.5,1299.7 701.1,1298.9 703.8,1298 706.4,1297.1 709,1296.1 711.6,1295 714.3,1293.9 716.9,1292.7 719.5,1291.4 722.1,1290.1 724.6,1288.8 727.2,1287.4 729.8,1286.1 732.4,1284.7 735,1283.3 737.5,1281.9 740.1,1280.5 742.7,1279.1 745.3,1277.6 747.9,1276.1 750.5,1274.6 753,1273.1 755.6,1271.6 758.2,1270.1 760.8,1268.6 763.4,1267.1 766,1265.6 768.6,1264.2 771.2,1262.9 773.8,1261.6 776.3,1260.4 778.8,1259.2 781.4,1258 783.9,1256.8 786.5,1255.7 789,1254.6 791.6,1253.5 794.2,1252.4 796.9,1251.4 799.6,1250.4 802.3,1249.4 805.3,1248.4 808.5,1247.3 811.7,1246.3 815,1245.3 818.3,1244.4 821.6,1243.5 824.9,1242.6 828.1,1241.7 831.3,1241 834.3,1240.2 837.2,1239.6 840,1239 841.9,1238.6 843.6,1238.3 845.3,1238 847,1237.7 848.5,1237.4 850.1,1237.2 851.7,1237 853.3,1236.8 854.9,1236.6 856.6,1236.5 858.4,1236.4 860.3,1236.3 863.1,1236.2 866,1236.2 869,1236.3 872.1,1236.4 875.4,1236.5 878.6,1236.7 882,1236.9 885.3,1237.2 888.7,1237.4 892,1237.7 895.3,1238 898.5,1238.2 901.7,1238.5 904.9,1238.7 908.1,1239.1 911.3,1239.4 914.5,1239.7 917.7,1240.1 920.8,1240.5 924,1240.8 927.2,1241.1 930.4,1241.5 933.6,1241.7 936.8,1242 940,1242.2 943.2,1242.4 946.3,1242.7 949.5,1242.8 952.7,1243 955.9,1243.2 959.1,1243.3 962.3,1243.5 965.4,1243.6 968.6,1243.7 971.8,1243.8 975,1243.9 978.2,1244 981.4,1244 984.5,1244.1 987.7,1244.1 990.9,1244.1 994.1,1244.1 997.3,1244.1 1000.5,1244.1 1003.7,1244.1 1006.8,1244 1010,1244 1013.2,1243.9 1016.4,1243.8 1019.6,1243.7 1022.8,1243.6 1025.9,1243.5 1029.1,1243.4 1032.3,1243.2 1035.5,1243.1 1038.7,1242.9 1041.9,1242.7 1045,1242.5 1048.2,1242.3 1051.4,1242 1054.6,1241.7 1057.8,1241.3 1061.1,1240.9 1064.3,1240.5 1067.5,1240 1070.8,1239.6 1074,1239.1 1077.2,1238.7 1080.4,1238.3 1083.5,1237.9 1086.6,1237.6 1089.6,1237.4 1092.2,1237.3 1094.8,1237.2 1097.3,1237.1 1099.8,1237.1 1102.3,1237.1 1104.8,1237.1 1107.2,1237.1 1109.7,1237.2 1112.2,1237.2 1114.8,1237.3 1117.3,1237.4 1120,1237.5 1123.1,1237.6 1126.2,1237.7 1129.4,1237.9 1132.6,1238.1 1135.9,1238.2 1139.2,1238.4 1142.5,1238.7 1145.8,1238.9 1149.1,1239.2 1152.4,1239.5 1155.7,1239.8 1158.9,1240.2 1162.1,1240.6 1165.4,1241.1 1168.6,1241.7 1171.8,1242.3 1175.1,1242.9 1178.3,1243.6 1181.5,1244.2 1184.8,1244.9 1188,1245.4 1191.2,1246 1194.5,1246.4 1197.7,1246.8 1201,1247.1 1204.4,1247.3 1207.9,1247.4 1211.5,1247.5 1215,1247.5 1218.6,1247.5 1222,1247.5 1225.3,1247.6 1228.5,1247.6 1231.4,1247.7 1234.2,1247.8 1236.6,1248 1237.8,1248.1 1238.9,1248.2 1239.9,1248.4 1240.8,1248.5 1241.7,1248.6 1242.6,1248.7 1243.5,1248.9 1244.3,1249.1 1245.2,1249.2 1246.2,1249.5 1247.2,1249.7 1248.3,1250 1250.2,1250.5 1252.1,1251.2 1254.2,1252 1256.3,1252.9 1258.6,1253.8 1260.9,1254.7 1263.2,1255.7 1265.6,1256.6 1268,1257.5 1270.5,1258.3 1273,1259.1 1275.5,1259.7 1278.5,1260.3 1281.5,1260.8 1284.7,1261.2 1287.9,1261.6 1291.1,1261.9 1294.4,1262.2 1297.7,1262.4 1301.1,1262.6 1304.4,1262.8 1307.7,1263 1311,1263.3 1314.3,1263.6 1317.5,1263.9 1320.8,1264.3 1324,1264.6 1327.3,1265 1330.5,1265.3 1333.7,1265.7 1337,1266 1340.2,1266.3 1343.5,1266.6 1346.7,1266.9 1350,1267.2 1353.2,1267.4 1356.4,1267.6 1359.7,1267.8 1362.9,1267.9 1366.2,1268.1 1369.4,1268.2 1372.6,1268.3 1375.9,1268.4 1379.1,1268.5 1382.4,1268.5 1385.6,1268.6 1388.9,1268.6 1392.1,1268.6 1395.3,1268.6 1398.6,1268.5 1401.8,1268.5 1405,1268.4 1408.3,1268.3 1411.5,1268.2 1414.7,1268.1 1418,1267.9 1421.2,1267.8 1424.4,1267.7 1427.7,1267.5 1430.9,1267.4 1434.1,1267.3 1437.4,1267.1 1440.6,1267 1443.9,1266.9 1447.1,1266.7 1450.4,1266.6 1453.6,1266.4 1456.8,1266.2 1460.1,1266.1 1463.3,1265.9 1466.6,1265.7 1469.8,1265.5 1473,1265.3 1476.3,1265.1 1479.5,1264.8 1482.7,1264.6 1486,1264.3 1489.2,1264 1492.4,1263.8 1495.7,1263.5 1498.9,1263.2 1502.1,1263 1505.4,1262.7 1508.6,1262.4 1511.8,1262.1 1515.1,1261.8 1518.3,1261.5 1521.6,1261.2 1524.8,1260.9 1528,1260.6 1531.3,1260.4 1534.5,1260.1 1537.8,1259.8 1541,1259.5 1544.3,1259.2 1547.5,1258.9 1550.7,1258.6 1554,1258.4 1557.2,1258.1 1560.5,1257.8 1563.7,1257.6 1567,1257.3 1570.2,1257.1 1573.4,1256.8 1576.7,1256.6 1579.9,1256.3 1583.2,1256.1 1586.4,1255.8 1589.6,1255.5 1592.9,1255.3 1596.1,1255 1599.3,1254.7 1602.6,1254.4 1605.8,1254.1 1609,1253.8 1612.3,1253.6 1615.5,1253.3 1618.7,1253.1 1622,1252.9 1625.2,1252.7 1628.4,1252.6 1631.7,1252.4 1634.9,1252.3 1638.2,1252.2 1641.4,1252.2 1644.6,1252.1 1647.9,1252.1 1651.1,1252 1654.4,1252 1657.6,1252 1660.9,1251.9 1664.1,1251.9 1667.3,1251.9 1670.6,1251.9 1673.8,1251.8 1677.1,1251.8 1680.3,1251.8 1683.6,1251.9 1686.8,1251.9 1690,1251.9 1693.3,1251.9 1696.5,1251.9 1699.8,1251.9 1703,1251.9 1706.2,1251.9 1709.5,1251.9 1712.7,1251.9 1715.9,1251.9 1719.2,1251.9 1722.4,1251.9 1725.6,1252 1728.9,1252 1732.1,1252 1735.3,1251.9 1738.6,1251.9 1741.8,1251.9 1745.1,1251.9 1748.4,1251.8 1751.7,1251.7 1755.1,1251.7 1758.4,1251.6 1761.7,1251.5 1765.1,1251.4 1768.3,1251.3 1771.5,1251.3 1774.7,1251.2 1777.7,1251.1 1780.7,1251.1 1783,1251.1 1785.3,1251.1 1787.5,1251.1 1789.7,1251.1 1791.8,1251.1 1793.9,1251.1 1796,1251.1 1798,1251.1 1800.1,1251.1 1802.2,1251.1 1804.3,1251.1 1806.4,1251.1" fill="none" stroke="#000" stroke-width="9.6" stroke-linejoin="round" stroke-linecap="round"/>
<g fill="none" stroke="#e8000b" stroke-width="3"><circle cx="180.1" cy="1718.5" r="9.0"/><circle cx="180.5" cy="1718.5" r="9.0"/><circle cx="181.5" cy="1716.3" r="9.0"/><circle cx="183.2" cy="1712.6" r="9.0"/><circle cx="185.5" cy="1706.9" r="9.0"/><circle cx="188.6" cy="1696.1" r="9.0"/><circle cx="192.3" cy="1675.8" r="9.0"/><circle cx="196.7" cy="1648.6" r="9.0"/><circle cx="201.7" cy="1616.6" r="9.0"/><circle cx="207.4" cy="1579.6" r="9.0"/><circle cx="213.8" cy="1531" r="9.0"/><circle cx="220.9" cy="1468.9" r="9.0"/><circle cx="228.7" cy="1403.5" r="9.0"/><circle cx="237.1" cy="1360.9" r="9.0"/><circle cx="246.2" cy="1335.4" r="9.0"/><circle cx="255.9" cy="1325.6" r="9.0"/><circle cx="266.4" cy="1352.2" r="9.0"/><circle cx="277.5" cy="1346" r="9.0"/><circle cx="289.3" cy="1333.8" r="9.0"/><circle cx="301.8" cy="1314.9" r="9.0"/><circle cx="314.9" cy="1290.3" r="9.0"/><circle cx="328.7" cy="1297.3" r="9.0"/><circle cx="343.2" cy="1325.5" r="9.0"/><circle cx="358.4" cy="1359" r="9.0"/><circle cx="374.2" cy="1386.1" r="9.0"/><circle cx="390.7" cy="1405.7" r="9.0"/><circle cx="407.9" cy="1414.4" r="9.0"/><circle cx="425.7" cy="1420.5" r="9.0"/><circle cx="444.3" cy="1424.3" r="9.0"/><circle cx="463.5" cy="1427.2" r="9.0"/><circle cx="483.3" cy="1432.6" r="9.0"/><circle cx="503.9" cy="1438.7" r="9.0"/><circle cx="525.1" cy="1444.1" r="9.0"/><circle cx="547" cy="1449.2" r="9.0"/><circle cx="569.6" cy="1455" r="9.0"/><circle cx="592.8" cy="1461.1" r="9.0"/><circle cx="616.8" cy="1466.4" r="9.0"/><circle cx="641.3" cy="1469.4" r="9.0"/><circle cx="666.6" cy="1466.7" r="9.0"/><circle cx="692.6" cy="1459.7" r="9.0"/><circle cx="719.2" cy="1449.7" r="9.0"/><circle cx="746.5" cy="1437.3" r="9.0"/><circle cx="774.4" cy="1424.5" r="9.0"/><circle cx="803.1" cy="1415.2" r="9.0"/><circle cx="832.4" cy="1408.5" r="9.0"/><circle cx="862.3" cy="1404.2" r="9.0"/><circle cx="893" cy="1402.6" r="9.0"/><circle cx="924.3" cy="1403.6" r="9.0"/><circle cx="956.3" cy="1405.8" r="9.0"/><circle cx="989" cy="1407.7" r="9.0"/><circle cx="1022.4" cy="1408.6" r="9.0"/><circle cx="1056.4" cy="1409.5" r="9.0"/><circle cx="1091.1" cy="1409.4" r="9.0"/><circle cx="1126.5" cy="1409.7" r="9.0"/><circle cx="1162.5" cy="1413.6" r="9.0"/><circle cx="1199.2" cy="1418.1" r="9.0"/><circle cx="1236.6" cy="1422.9" r="9.0"/><circle cx="1274.7" cy="1428.6" r="9.0"/><circle cx="1313.4" cy="1432.5" r="9.0"/><circle cx="1352.9" cy="1434.6" r="9.0"/><circle cx="1392.9" cy="1434.6" r="9.0"/><circle cx="1433.7" cy="1432.4" r="9.0"/><circle cx="1475.2" cy="1429.5" r="9.0"/><circle cx="1517.3" cy="1426" r="9.0"/><circle cx="1560" cy="1421.3" r="9.0"/><circle cx="1603.5" cy="1416.5" r="9.0"/><circle cx="1647.6" cy="1413.4" r="9.0"/><circle cx="1692.4" cy="1411.5" r="9.0"/><circle cx="1737.9" cy="1410.2" r="9.0"/><circle cx="1784.1" cy="1409.2" r="9.0"/></g>
<path d="M180.5,1718.5 180.9,1717.5 181.4,1716.6 181.8,1715.6 182.2,1714.7 182.7,1713.7 183.1,1712.8 183.5,1711.8 184,1710.8 184.4,1709.9 184.8,1708.9 185.1,1708 185.5,1707 185.8,1706.1 186.1,1705.2 186.4,1704.3 186.7,1703.5 186.9,1702.6 187.2,1701.7 187.4,1700.8 187.6,1699.9 187.9,1699 188.1,1698 188.4,1697 188.6,1696 188.9,1694.5 189.2,1693 189.6,1691.4 189.9,1689.8 190.2,1688.1 190.5,1686.4 190.8,1684.6 191.1,1682.9 191.4,1681.1 191.7,1679.2 192,1677.4 192.3,1675.6 192.7,1673.5 193,1671.3 193.4,1669.1 193.7,1666.9 194.1,1664.6 194.5,1662.3 194.8,1660 195.2,1657.7 195.6,1655.4 196,1653 196.3,1650.7 196.7,1648.3 197.1,1645.7 197.5,1643.2 197.9,1640.6 198.3,1638 198.8,1635.4 199.2,1632.7 199.6,1630.1 200,1627.4 200.4,1624.7 200.8,1622 201.3,1619.3 201.7,1616.6 202.2,1613.6 202.6,1610.7 203.1,1607.7 203.6,1604.7 204.1,1601.7 204.5,1598.7 205,1595.6 205.5,1592.5 206,1589.4 206.5,1586.3 206.9,1583.1 207.4,1579.8 207.9,1576 208.5,1572.2 209,1568.3 209.5,1564.4 210.1,1560.4 210.6,1556.4 211.1,1552.3 211.7,1548.2 212.2,1544 212.7,1539.8 213.3,1535.6 213.8,1531.3 214.4,1526.4 215,1521.4 215.6,1516.3 216.2,1511.2 216.7,1506 217.3,1500.7 217.9,1495.5 218.5,1490.2 219.1,1484.9 219.7,1479.6 220.3,1474.3 220.9,1469 221.5,1463.5 222.2,1457.8 222.8,1451.9 223.5,1446 224.2,1440.1 224.8,1434.2 225.5,1428.4 226.1,1422.8 226.8,1417.4 227.4,1412.3 228.1,1407.6 228.7,1403.2 229.1,1400.8 229.4,1398.4 229.8,1396.2 230.1,1394.1 230.5,1392.1 230.8,1390.1 231.2,1388.2 231.5,1386.4 231.9,1384.5 232.3,1382.7 232.6,1380.9 233,1379 233.3,1377.4 233.6,1375.8 234,1374.3 234.3,1372.8 234.6,1371.3 234.9,1369.9 235.3,1368.4 235.6,1366.9 236,1365.4 236.3,1363.9 236.7,1362.4 237.1,1360.8 237.5,1358.9 237.9,1357 238.3,1354.9 238.7,1352.8 239.1,1350.6 239.5,1348.5 239.9,1346.5 240.5,1344.5 241.1,1342.6 241.8,1340.9 242.6,1339.3 243.5,1338 244.3,1337.1 245.2,1336.2 246.2,1335.4 247.3,1334.6 248.4,1333.9 249.5,1333.3 250.7,1332.7 251.8,1332.3 253,1331.9 254.1,1331.7 255.2,1331.6 256.2,1331.6 257.1,1331.8 258,1332.1 258.9,1332.6 259.8,1333.2 260.6,1333.9 261.5,1334.7 262.3,1335.6 263.2,1336.4 264,1337.2 264.9,1338 265.8,1338.8 266.7,1339.4 267.7,1340.1 268.6,1340.8 269.6,1341.5 270.6,1342.3 271.6,1343.1 272.7,1343.8 273.7,1344.5 274.7,1345.1 275.7,1345.6 276.6,1345.9 277.6,1346 278.5,1346 279.5,1345.7 280.4,1345.2 281.3,1344.5 282.2,1343.7 283,1342.7 283.9,1341.6 284.7,1340.4 285.6,1339.1 286.4,1337.9 287.3,1336.6 288.1,1335.4 289,1334.2 290.1,1332.8 291.2,1331.2 292.2,1329.7 293.3,1328 294.4,1326.4 295.5,1324.7 296.5,1322.9 297.6,1321.2 298.7,1319.5 299.8,1317.8 300.9,1316.1 302,1314.5 303.1,1312.8 304.1,1311.1 305.2,1309.2 306.2,1307.2 307.3,1305.3 308.3,1303.4 309.4,1301.7 310.5,1300.1 311.6,1298.7 312.8,1297.5 314,1296.7 315.2,1296.2 316.3,1296.1 317.5,1296.2 318.7,1296.5 319.9,1297 321.2,1297.6 322.5,1298.3 323.7,1299.2 325,1300.1 326.2,1301.1 327.4,1302.1 328.5,1303.1 329.6,1304.1 330.8,1305.3 331.9,1306.6 333,1308 334,1309.5 335,1311 336,1312.6 336.9,1314.3 337.8,1316 338.7,1317.6 339.6,1319.2 340.5,1320.9 341.4,1322.4 342.2,1323.8 343.1,1325.3 343.9,1326.7 344.7,1328.1 345.5,1329.5 346.3,1331 347,1332.4 347.8,1333.8 348.5,1335.2 349.2,1336.6 349.9,1338 350.5,1339.4 351,1340.6 351.5,1341.8 351.9,1343 352.3,1344.1 352.7,1345.3 353.1,1346.5 353.4,1347.6 353.8,1348.8 354.3,1350 354.7,1351.2 355.2,1352.5 355.8,1353.8 356.6,1355.6 357.6,1357.5 358.6,1359.4 359.6,1361.4 360.7,1363.4 361.9,1365.4 363,1367.5 364.2,1369.5 365.4,1371.6 366.6,1373.6 367.8,1375.5 368.9,1377.4 370,1379.1 371,1380.9 372.1,1382.6 373.1,1384.4 374.2,1386.1 375.3,1387.8 376.3,1389.5 377.4,1391.1 378.5,1392.7 379.7,1394.2 380.8,1395.7 382,1397.1 383,1398.3 384.1,1399.4 385.1,1400.5 386.1,1401.6 387.2,1402.6 388.3,1403.6 389.4,1404.6 390.5,1405.5 391.6,1406.4 392.7,1407.3 393.9,1408.1 395.1,1408.9 396.3,1409.6 397.6,1410.3 398.8,1410.9 400.1,1411.5 401.4,1412 402.8,1412.5 404.1,1413 405.4,1413.5 406.8,1414 408.1,1414.4 409.5,1414.9 410.8,1415.4 412.1,1415.9 413.4,1416.4 414.7,1416.8 415.9,1417.3 417.2,1417.8 418.5,1418.2 419.8,1418.7 421.1,1419.1 422.4,1419.5 423.8,1419.9 425.1,1420.3 426.5,1420.7 428,1421.1 429.6,1421.5 431.2,1421.8 432.8,1422.2 434.4,1422.5 436.1,1422.8 437.7,1423.1 439.4,1423.4 441.1,1423.7 442.8,1424 444.5,1424.3 446.2,1424.6 448.1,1424.9 450.1,1425.2 452,1425.5 454,1425.8 456,1426.1 458.1,1426.4 460.1,1426.7 462.1,1427 464.1,1427.3 466.1,1427.7 468.1,1428.1 470,1428.5 471.8,1429 473.6,1429.4 475.3,1429.9 477,1430.5 478.7,1431 480.4,1431.6 482.1,1432.2 483.8,1432.8 485.6,1433.4 487.4,1434 489.2,1434.5 491.1,1435.1 493.5,1435.8 495.9,1436.5 498.4,1437.2 501,1437.9 503.6,1438.6 506.3,1439.3 508.9,1440 511.6,1440.7 514.3,1441.4 516.9,1442.1 519.6,1442.7 522.2,1443.4 524.8,1444 527.4,1444.7 530,1445.3 532.6,1445.9 535.2,1446.5 537.8,1447.1 540.4,1447.6 543,1448.2 545.6,1448.8 548.2,1449.4 550.8,1450.1 553.4,1450.7 556,1451.4 558.6,1452 561.2,1452.7 563.8,1453.4 566.4,1454.1 569,1454.9 571.5,1455.6 574.1,1456.3 576.7,1457 579.3,1457.7 581.9,1458.3 584.5,1459 587.1,1459.6 589.7,1460.3 592.4,1461 595.1,1461.6 597.8,1462.3 600.4,1462.9 603.1,1463.5 605.7,1464.1 608.3,1464.7 610.8,1465.2 613.2,1465.7 615.6,1466.2 617.5,1466.6 619.3,1466.9 621.1,1467.2 622.8,1467.6 624.5,1467.9 626.2,1468.2 627.9,1468.4 629.5,1468.7 631.2,1468.9 632.9,1469 634.6,1469.2 636.3,1469.3 638,1469.4 639.8,1469.4 641.5,1469.4 643.2,1469.4 645,1469.3 646.7,1469.3 648.4,1469.1 650.2,1469 651.9,1468.9 653.6,1468.7 655.4,1468.5 657.1,1468.3 658.8,1468.1 660.5,1467.8 662.2,1467.6 663.9,1467.3 665.5,1467 667.2,1466.6 668.9,1466.3 670.6,1465.9 672.4,1465.5 674.1,1465 675.9,1464.6 677.8,1464.1 680.2,1463.4 682.7,1462.7 685.2,1462 687.8,1461.2 690.4,1460.4 693.1,1459.5 695.7,1458.6 698.4,1457.7 701.1,1456.7 703.8,1455.8 706.4,1454.8 709,1453.8 711.6,1452.8 714.2,1451.7 716.8,1450.7 719.4,1449.6 722,1448.4 724.6,1447.3 727.2,1446.1 729.8,1445 732.4,1443.8 734.9,1442.6 737.5,1441.5 740.1,1440.3 742.7,1439.1 745.3,1437.9 747.9,1436.6 750.5,1435.4 753,1434.1 755.6,1432.9 758.2,1431.6 760.8,1430.4 763.4,1429.2 766,1428 768.6,1426.9 771.2,1425.8 773.8,1424.8 776.3,1423.8 778.8,1422.9 781.4,1422 783.9,1421.1 786.5,1420.2 789.1,1419.4 791.6,1418.5 794.3,1417.7 796.9,1416.9 799.6,1416.2 802.3,1415.4 805.3,1414.6 808.5,1413.8 811.7,1413 815,1412.2 818.3,1411.5 821.6,1410.7 824.9,1410 828.1,1409.4 831.3,1408.7 834.3,1408.1 837.2,1407.6 840,1407.1 841.9,1406.8 843.7,1406.5 845.3,1406.2 847,1406 848.6,1405.7 850.1,1405.5 851.7,1405.3 853.3,1405.1 854.9,1404.9 856.6,1404.8 858.4,1404.6 860.3,1404.4 863.1,1404.2 866,1403.9 869,1403.7 872.1,1403.5 875.4,1403.3 878.6,1403.1 882,1402.9 885.3,1402.8 888.7,1402.7 892,1402.6 895.3,1402.5 898.5,1402.5 901.7,1402.5 904.9,1402.6 908.1,1402.7 911.3,1402.8 914.5,1403 917.7,1403.2 920.8,1403.4 924,1403.6 927.2,1403.8 930.4,1404 933.6,1404.2 936.8,1404.4 940,1404.6 943.2,1404.8 946.4,1405.1 949.5,1405.3 952.7,1405.5 955.9,1405.8 959.1,1406 962.3,1406.3 965.4,1406.5 968.6,1406.7 971.8,1406.9 975,1407.1 978.2,1407.3 981.4,1407.4 984.5,1407.5 987.7,1407.6 990.9,1407.7 994.1,1407.8 997.3,1407.9 1000.5,1408 1003.6,1408 1006.8,1408.1 1010,1408.2 1013.2,1408.3 1016.4,1408.4 1019.6,1408.5 1022.7,1408.6 1025.9,1408.7 1029.1,1408.8 1032.3,1408.9 1035.5,1409 1038.7,1409.1 1041.8,1409.2 1045,1409.3 1048.2,1409.3 1051.4,1409.4 1054.6,1409.4 1057.8,1409.5 1061.1,1409.5 1064.3,1409.5 1067.5,1409.5 1070.8,1409.5 1074,1409.5 1077.2,1409.4 1080.4,1409.4 1083.5,1409.4 1086.6,1409.4 1089.6,1409.4 1092.2,1409.4 1094.8,1409.4 1097.4,1409.3 1099.9,1409.3 1102.3,1409.2 1104.8,1409.1 1107.2,1409.1 1109.7,1409.1 1112.2,1409.1 1114.8,1409.1 1117.3,1409.2 1120,1409.3 1123.1,1409.5 1126.2,1409.7 1129.4,1410 1132.6,1410.3 1135.9,1410.6 1139.2,1410.9 1142.5,1411.3 1145.8,1411.7 1149.1,1412.1 1152.4,1412.5 1155.6,1412.8 1158.9,1413.2 1162.1,1413.6 1165.4,1413.9 1168.6,1414.3 1171.8,1414.7 1175.1,1415.1 1178.3,1415.5 1181.5,1415.9 1184.8,1416.3 1188,1416.7 1191.2,1417.1 1194.5,1417.5 1197.7,1417.9 1200.9,1418.3 1204.2,1418.7 1207.4,1419.1 1210.7,1419.5 1213.9,1419.9 1217.2,1420.3 1220.4,1420.7 1223.6,1421.2 1226.9,1421.6 1230.1,1422 1233.4,1422.5 1236.6,1422.9 1239.8,1423.4 1243.1,1423.8 1246.3,1424.3 1249.6,1424.8 1252.8,1425.4 1256,1425.9 1259.3,1426.4 1262.5,1426.9 1265.8,1427.4 1269,1427.8 1272.3,1428.3 1275.5,1428.7 1278.7,1429.1 1282,1429.5 1285.2,1429.9 1288.4,1430.2 1291.7,1430.6 1294.9,1430.9 1298.1,1431.2 1301.4,1431.5 1304.6,1431.8 1307.8,1432.1 1311.1,1432.3 1314.3,1432.6 1317.5,1432.8 1320.8,1433.1 1324,1433.3 1327.3,1433.5 1330.5,1433.7 1333.7,1433.8 1337,1434 1340.2,1434.2 1343.5,1434.3 1346.7,1434.4 1350,1434.5 1353.2,1434.6 1356.4,1434.7 1359.7,1434.7 1362.9,1434.8 1366.2,1434.8 1369.4,1434.8 1372.7,1434.8 1375.9,1434.8 1379.1,1434.8 1382.4,1434.8 1385.6,1434.7 1388.9,1434.7 1392.1,1434.6 1395.3,1434.5 1398.6,1434.4 1401.8,1434.3 1405,1434.1 1408.3,1433.9 1411.5,1433.8 1414.7,1433.6 1418,1433.4 1421.2,1433.2 1424.4,1433 1427.7,1432.8 1430.9,1432.6 1434.1,1432.4 1437.4,1432.2 1440.6,1432 1443.9,1431.8 1447.1,1431.5 1450.4,1431.3 1453.6,1431.1 1456.8,1430.9 1460.1,1430.6 1463.3,1430.4 1466.6,1430.1 1469.8,1429.9 1473,1429.7 1476.3,1429.4 1479.5,1429.2 1482.7,1428.9 1486,1428.7 1489.2,1428.4 1492.4,1428.2 1495.7,1427.9 1498.9,1427.6 1502.1,1427.4 1505.4,1427.1 1508.6,1426.8 1511.8,1426.5 1515.1,1426.2 1518.3,1425.9 1521.6,1425.6 1524.8,1425.3 1528.1,1425 1531.3,1424.6 1534.5,1424.3 1537.8,1424 1541,1423.6 1544.3,1423.3 1547.5,1422.9 1550.7,1422.5 1554,1422.1 1557.2,1421.7 1560.5,1421.2 1563.7,1420.8 1567,1420.3 1570.2,1419.9 1573.4,1419.4 1576.7,1419 1579.9,1418.6 1583.2,1418.2 1586.4,1417.9 1589.6,1417.6 1592.9,1417.3 1596.1,1417 1599.3,1416.8 1602.6,1416.6 1605.8,1416.4 1609,1416.1 1612.3,1415.9 1615.5,1415.7 1618.7,1415.5 1622,1415.3 1625.2,1415.1 1628.4,1414.9 1631.7,1414.6 1634.9,1414.4 1638.2,1414.1 1641.4,1413.9 1644.6,1413.6 1647.9,1413.4 1651.1,1413.2 1654.4,1413 1657.6,1412.8 1660.9,1412.6 1664.1,1412.4 1667.3,1412.2 1670.6,1412.1 1673.8,1412 1677.1,1411.9 1680.3,1411.8 1683.6,1411.7 1686.8,1411.6 1690,1411.5 1693.3,1411.5 1696.5,1411.4 1699.8,1411.3 1703,1411.2 1706.2,1411.1 1709.5,1411 1712.7,1410.9 1715.9,1410.8 1719.2,1410.7 1722.4,1410.6 1725.6,1410.5 1728.9,1410.4 1732.1,1410.4 1735.3,1410.3 1738.6,1410.2 1741.8,1410.1 1745.1,1410 1748.4,1410 1751.7,1409.9 1755.1,1409.8 1758.4,1409.8 1761.7,1409.7 1765.1,1409.6 1768.3,1409.6 1771.5,1409.5 1774.7,1409.4 1777.7,1409.4 1780.7,1409.3 1783,1409.2 1785.3,1409.2 1787.5,1409.1 1789.7,1409 1791.8,1409 1793.9,1408.9 1796,1408.8 1798,1408.8 1800.1,1408.7 1802.2,1408.6 1804.3,1408.6 1806.4,1408.5" fill="none" stroke="#000" stroke-width="9.6" stroke-linejoin="round" stroke-linecap="round"/>
<rect x="144" y="23" width="1664.9" height="1755.7" fill="none" stroke="#000" stroke-width="5.6" stroke-linejoin="round"/>
<g stroke="#000" stroke-width="5.6" stroke-linecap="round"><line x1="267" y1="1747" x2="267" y2="1778"/><line x1="513.7" y1="1747" x2="513.7" y2="1778"/><line x1="760.5" y1="1747" x2="760.5" y2="1778"/><line x1="1007.2" y1="1747" x2="1007.2" y2="1778"/><line x1="1253.9" y1="1747" x2="1253.9" y2="1778"/><line x1="1500.6" y1="1747" x2="1500.6" y2="1778"/><line x1="1747.4" y1="1747" x2="1747.4" y2="1778"/><line x1="390.4" y1="1763.8" x2="390.4" y2="1778"/><line x1="637.1" y1="1763.8" x2="637.1" y2="1778"/><line x1="883.8" y1="1763.8" x2="883.8" y2="1778"/><line x1="1130.6" y1="1763.8" x2="1130.6" y2="1778"/><line x1="1377.3" y1="1763.8" x2="1377.3" y2="1778"/><line x1="1624" y1="1763.8" x2="1624" y2="1778"/></g>
<text transform="translate(267,1864) scale(0.955,1)" font-family="'Liberation Sans', Arial, sans-serif" font-size="65.5" text-anchor="middle">0</text>
<text transform="translate(513.7,1864) scale(0.955,1)" font-family="'Liberation Sans', Arial, sans-serif" font-size="65.5" text-anchor="middle">20</text>
<text transform="translate(760.5,1864) scale(0.955,1)" font-family="'Liberation Sans', Arial, sans-serif" font-size="65.5" text-anchor="middle">40</text>
<text transform="translate(1007.2,1864) scale(0.955,1)" font-family="'Liberation Sans', Arial, sans-serif" font-size="65.5" text-anchor="middle">60</text>
<text transform="translate(1253.9,1864) scale(0.955,1)" font-family="'Liberation Sans', Arial, sans-serif" font-size="65.5" text-anchor="middle">80</text>
<text transform="translate(1500.6,1864) scale(0.955,1)" font-family="'Liberation Sans', Arial, sans-serif" font-size="65.5" text-anchor="middle">100</text>
<text transform="translate(1747.4,1864) scale(0.955,1)" font-family="'Liberation Sans', Arial, sans-serif" font-size="65.5" text-anchor="middle">120</text>
<text transform="translate(870.7,261) scale(0.955,1)" font-family="'Liberation Sans', Arial, sans-serif" font-size="84.3" stroke="#000" stroke-width="0.5">pH11</text>
<text transform="translate(870.6,435) scale(0.955,1)" font-family="'Liberation Sans', Arial, sans-serif" font-size="84.3" stroke="#000" stroke-width="0.5">pH10</text>
<text transform="translate(866.6,615.9) scale(0.955,1)" font-family="'Liberation Sans', Arial, sans-serif" font-size="84.3" stroke="#000" stroke-width="0.5">pH9</text>
<text transform="translate(870.4,794.2) scale(0.955,1)" font-family="'Liberation Sans', Arial, sans-serif" font-size="84.3" stroke="#000" stroke-width="0.5">pH8.5</text>
<text transform="translate(866.6,972.3) scale(0.955,1)" font-family="'Liberation Sans', Arial, sans-serif" font-size="84.3" stroke="#000" stroke-width="0.5">pH8</text>
<text transform="translate(864.2,1143) scale(0.955,1)" font-family="'Liberation Sans', Arial, sans-serif" font-size="84.3" stroke="#000" stroke-width="0.5">pH7</text>
<text transform="translate(860.9,1323) scale(0.955,1)" font-family="'Liberation Sans', Arial, sans-serif" font-size="84.3" stroke="#000" stroke-width="0.5">pH6</text>
<text transform="translate(860.9,1484.7) scale(0.955,1)" font-family="'Liberation Sans', Arial, sans-serif" font-size="84.3" stroke="#000" stroke-width="0.5">pH3</text>
<text transform="translate(77.9,1266.4) rotate(-90) scale(0.947,1)" font-family="'Liberation Sans', Arial, sans-serif" font-size="84.3" stroke="#000" stroke-width="0.5">Absorption(arbi. units)</text>
<text transform="translate(820.1,1964.1) scale(0.955,1)" font-family="'Liberation Sans', Arial, sans-serif" font-size="84.3" stroke="#000" stroke-width="0.5">E-E</text>
<text transform="translate(953.9,1994) scale(0.955,1)" font-family="'Liberation Sans', Arial, sans-serif" font-size="47.2">0</text>
<text transform="translate(981,1964.1) scale(0.955,1)" font-family="'Liberation Sans', Arial, sans-serif" font-size="84.3" stroke="#000" stroke-width="0.5">(eV)</text>
<rect x="289.6" y="1554.6" width="680.8" height="118" fill="#fff" stroke="#000" stroke-width="2"/>
<circle cx="381.8" cy="1589.9" r="9.3" fill="none" stroke="#e8000b" stroke-width="2.6"/>
<line x1="330.6" y1="1647.2" x2="433.8" y2="1647.2" stroke="#000" stroke-width="9.5" stroke-linecap="round"/>
<text x="447" y="1604.5" font-family="'Liberation Sans', Arial, sans-serif" font-size="46.7">The Best Fitting XANES</text>
<text x="447.2" y="1662.6" font-family="'Liberation Sans', Arial, sans-serif" font-size="46.7">Experimental Data</text>
</svg>
</body></html>
